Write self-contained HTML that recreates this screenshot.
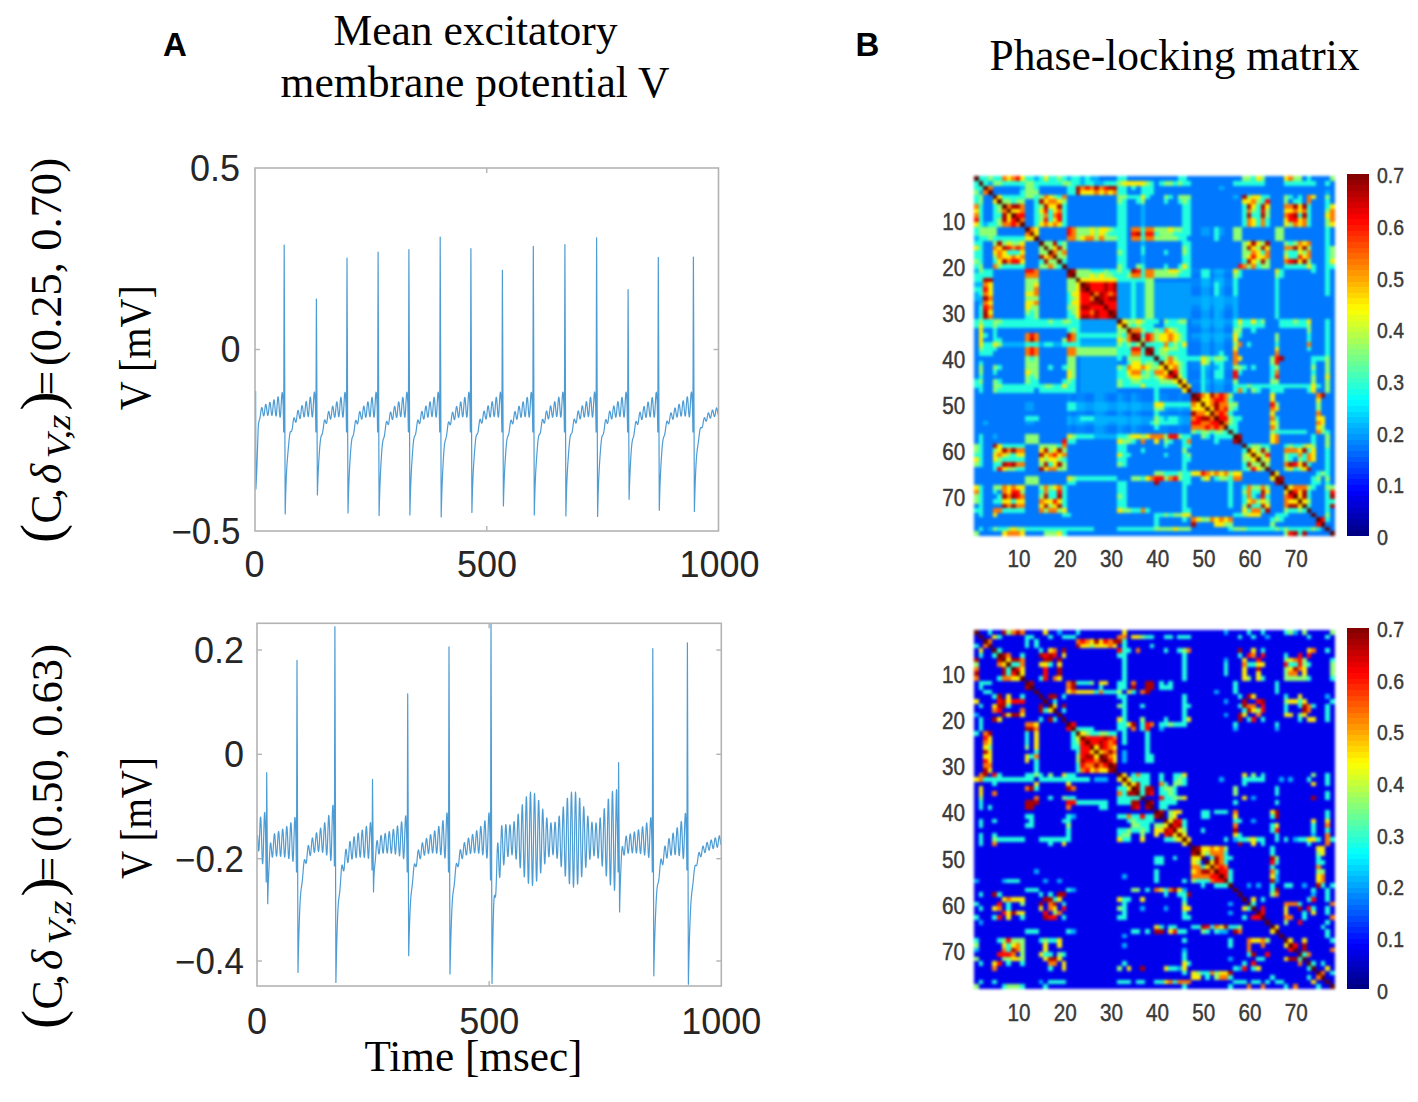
<!DOCTYPE html>
<html><head><meta charset="utf-8"><title>Figure</title>
<style>
html,body{margin:0;padding:0;background:#fff;}
body{width:1418px;height:1102px;overflow:hidden;}
svg{display:block;}
</style></head>
<body>
<svg width="1418" height="1102" viewBox="0 0 1418 1102">
<text x="163.0" y="55.9" font-family='"Liberation Sans", sans-serif' font-size="33" text-anchor="start" font-weight="bold" fill="#000">A</text><text x="855.6" y="56.2" font-family='"Liberation Sans", sans-serif' font-size="33" text-anchor="start" font-weight="bold" fill="#000">B</text><text x="475.5" y="44.7" font-family='"Liberation Serif", serif' font-size="43.5" text-anchor="middle" font-weight="normal" fill="#000" textLength="284" lengthAdjust="spacingAndGlyphs">Mean excitatory</text><text x="475.0" y="96.8" font-family='"Liberation Serif", serif' font-size="43.5" text-anchor="middle" font-weight="normal" fill="#000" textLength="389" lengthAdjust="spacingAndGlyphs">membrane potential V</text><text x="1174.5" y="70.3" font-family='"Liberation Serif", serif' font-size="43.5" text-anchor="middle" font-weight="normal" fill="#000" textLength="370" lengthAdjust="spacingAndGlyphs">Phase-locking matrix</text><g transform="translate(61.4,543.5) rotate(-90)" font-family='"Liberation Serif", serif' fill="#000"><text x="0.6" y="-1" font-size="57">(</text><text x="20" y="0" font-size="43.5">C</text><text x="44.5" y="0" font-size="43.5">,</text><text x="59.5" y="0" font-size="43.5" font-style="italic">&#948;</text><text x="85" y="8.5" font-size="34" font-style="italic" textLength="44" lengthAdjust="spacingAndGlyphs">V,z</text><text x="133" y="-1" font-size="57">)</text><text x="148" y="0" font-size="43.5">=</text><text x="177.5" y="0" font-size="43.5" textLength="208" lengthAdjust="spacingAndGlyphs">(0.25, 0.70)</text></g><g transform="translate(62.0,1029.5) rotate(-90)" font-family='"Liberation Serif", serif' fill="#000"><text x="0.6" y="-1" font-size="57">(</text><text x="20" y="0" font-size="43.5">C</text><text x="44.5" y="0" font-size="43.5">,</text><text x="59.5" y="0" font-size="43.5" font-style="italic">&#948;</text><text x="85" y="8.5" font-size="34" font-style="italic" textLength="44" lengthAdjust="spacingAndGlyphs">V,z</text><text x="133" y="-1" font-size="57">)</text><text x="148" y="0" font-size="43.5">=</text><text x="177.5" y="0" font-size="43.5" textLength="208" lengthAdjust="spacingAndGlyphs">(0.50, 0.63)</text></g><g transform="translate(150.0,347.7) rotate(-90)"><text x="0" y="0" font-family='"Liberation Serif", serif' font-size="43.5" text-anchor="middle" fill="#000" textLength="125" lengthAdjust="spacingAndGlyphs">V [mV]</text></g><g transform="translate(151.0,817.9) rotate(-90)"><text x="0" y="0" font-family='"Liberation Serif", serif' font-size="43.5" text-anchor="middle" fill="#000" textLength="122" lengthAdjust="spacingAndGlyphs">V [mV]</text></g><path d="M255.60 391.00L255.90 489.00L256.80 470.00L258.20 428.00L258.50 424.33L258.75 422.32L259.00 421.10L259.25 420.33L259.50 419.67L259.75 418.87L260.00 417.75L260.25 416.26L260.50 414.46L260.75 412.50L261.00 410.61L261.25 409.02L261.50 407.93L261.75 407.49L262.00 407.75L262.25 408.67L262.50 410.09L262.75 411.77L263.00 413.45L263.25 414.84L263.50 415.71L263.75 415.89L264.00 415.32L264.25 414.05L264.50 412.23L264.75 410.11L265.00 407.99L265.25 406.15L265.50 404.87L265.75 404.33L266.00 404.62L266.25 405.69L266.50 407.39L266.75 409.47L267.00 411.63L267.25 413.53L267.50 414.89L267.75 415.49L268.00 415.21L268.25 414.07L268.50 412.20L268.75 409.86L269.00 407.37L269.25 405.09L269.50 403.33L269.75 402.36L270.00 402.32L270.25 403.23L270.50 404.97L270.75 407.29L271.00 409.85L271.25 412.27L271.50 414.19L271.75 415.30L272.00 415.42L272.25 414.49L272.50 412.62L272.75 410.05L273.00 407.12L273.25 404.26L273.50 401.86L273.75 400.29L274.00 399.78L274.25 400.43L274.50 402.16L274.75 404.73L275.00 407.78L275.25 410.87L275.50 413.53L275.75 415.35L276.00 416.04L276.25 415.44L276.50 413.61L276.75 410.76L277.00 407.28L277.25 403.65L277.50 400.38L277.75 397.97L278.00 396.77L278.25 396.99L278.50 398.64L278.75 401.50L279.00 405.18L279.25 409.16L279.50 412.85L279.75 415.69L280.00 417.22L280.25 417.17L280.50 415.47L280.75 412.33L281.00 408.14L281.25 403.47L281.50 398.98L281.75 395.34L282.00 393.10L282.25 392.62L282.50 394.04L282.75 397.19L283.00 401.68L283.25 406.86L283.70 432.00L284.20 245.00L285.20 514.00L285.45 503.27L285.70 494.05L285.95 486.17L286.20 479.47L286.45 473.81L286.70 469.03L286.95 464.96L287.20 461.44L287.45 458.30L287.70 455.37L287.95 452.53L288.20 449.71L288.45 446.88L288.70 444.06L288.95 441.33L289.20 438.78L289.45 436.52L289.70 434.66L289.95 433.24L290.20 432.30L290.45 431.77L290.70 431.57L290.95 431.55L291.20 431.54L291.45 431.39L291.70 430.94L291.95 430.11L292.20 428.87L292.45 427.25L292.70 425.36L292.95 423.35L293.20 421.43L293.45 419.77L293.70 418.54L293.95 417.85L294.20 417.74L294.45 418.15L294.70 418.97L294.95 420.01L295.20 421.05L295.45 421.88L295.70 422.28L295.95 422.14L296.20 421.39L296.45 420.06L296.70 418.29L296.95 416.26L297.20 414.22L297.45 412.42L297.70 411.09L297.95 410.39L298.20 410.40L298.45 411.09L298.70 412.35L298.95 413.96L299.20 415.66L299.45 417.16L299.70 418.20L299.95 418.59L300.20 418.21L300.45 417.06L300.70 415.27L300.95 413.04L301.20 410.67L301.45 408.46L301.70 406.73L301.95 405.70L302.20 405.53L302.45 406.24L302.70 407.71L302.95 409.74L303.20 412.01L303.45 414.16L303.70 415.87L303.95 416.83L304.20 416.87L304.45 415.93L304.70 414.09L304.95 411.59L305.20 408.74L305.45 405.93L305.70 403.57L305.95 401.97L306.20 401.40L306.45 401.93L306.70 403.50L306.95 405.90L307.20 408.78L307.45 411.70L307.70 414.22L307.95 415.93L308.20 416.55L308.45 415.92L308.70 414.09L308.95 411.25L309.20 407.79L309.45 404.17L309.70 400.91L309.95 398.46L310.20 397.22L310.45 397.37L310.70 398.93L310.95 401.69L311.20 405.27L311.45 409.15L311.70 412.76L311.95 415.52L312.20 417.00L312.45 416.90L312.70 415.18L312.95 412.01L313.20 407.79L313.45 403.09L313.70 398.58L313.95 394.89L314.20 392.60L314.45 392.08L314.70 393.44L314.95 396.53L315.20 400.95L315.45 406.08L315.90 432.00L316.40 299.00L317.40 495.00L317.65 486.63L317.90 479.57L318.15 473.55L318.40 468.32L318.65 463.67L318.90 459.43L319.15 455.51L319.40 451.84L319.65 448.45L319.90 445.37L320.15 442.65L320.40 440.37L320.65 438.55L320.90 437.19L321.15 436.23L321.40 435.58L321.65 435.12L321.90 434.68L322.15 434.11L322.40 433.30L322.65 432.17L322.90 430.69L323.15 428.93L323.40 426.97L323.65 424.99L323.90 423.13L324.15 421.59L324.40 420.49L324.65 419.91L324.90 419.87L325.15 420.29L325.40 421.05L325.65 421.95L325.90 422.78L326.15 423.35L326.40 423.47L326.65 423.04L326.90 422.03L327.15 420.52L327.40 418.64L327.65 416.60L327.90 414.64L328.15 413.01L328.40 411.89L328.65 411.43L328.90 411.66L329.15 412.53L329.40 413.87L329.65 415.47L329.90 417.05L330.15 418.34L330.40 419.09L330.65 419.15L330.90 418.45L331.15 417.03L331.40 415.04L331.65 412.73L331.90 410.40L332.15 408.36L332.40 406.88L332.65 406.17L332.90 406.33L333.15 407.33L333.40 409.01L333.65 411.13L333.90 413.36L334.15 415.34L334.40 416.75L334.65 417.34L334.90 416.98L335.15 415.66L335.40 413.53L335.65 410.85L335.90 407.97L336.15 405.30L336.40 403.21L336.65 402.00L336.90 401.85L337.15 402.79L337.40 404.71L337.65 407.32L337.90 410.24L338.15 413.03L338.40 415.26L338.65 416.55L338.90 416.67L339.15 415.54L339.40 413.27L339.65 410.13L339.90 406.55L340.15 403.01L340.40 400.02L340.65 398.02L340.90 397.31L341.15 398.03L341.40 400.09L341.65 403.22L341.90 406.97L342.15 410.79L342.40 414.11L342.65 416.40L342.90 417.26L343.15 416.50L343.40 414.16L343.65 410.51L343.90 406.02L344.15 401.32L344.40 397.06L344.65 393.87L344.90 392.25L345.15 392.47L345.40 394.55L345.65 398.22L345.90 403.00L346.15 408.19L346.50 432.00L347.00 258.00L348.00 513.00L348.25 502.51L348.50 493.67L348.75 486.21L349.00 479.84L349.25 474.32L349.50 469.43L349.75 464.99L350.00 460.85L350.25 456.95L350.50 453.26L350.75 449.83L351.00 446.69L351.25 443.94L351.50 441.63L351.75 439.80L352.00 438.44L352.25 437.50L352.50 436.87L352.75 436.40L353.00 435.95L353.25 435.35L353.50 434.49L353.75 433.28L354.00 431.71L354.25 429.84L354.50 427.79L354.75 425.70L355.00 423.76L355.25 422.15L355.50 420.99L355.75 420.38L356.00 420.32L356.25 420.73L356.50 421.49L356.75 422.39L357.00 423.22L357.25 423.77L357.50 423.87L357.75 423.41L358.00 422.36L358.25 420.81L358.50 418.88L358.75 416.80L359.00 414.80L359.25 413.13L359.50 411.99L359.75 411.52L360.00 411.74L360.25 412.61L360.50 413.95L360.75 415.56L361.00 417.14L361.25 418.43L361.50 419.18L361.75 419.23L362.00 418.52L362.25 417.08L362.50 415.07L362.75 412.75L363.00 410.40L363.25 408.34L363.50 406.85L363.75 406.14L364.00 406.29L364.25 407.29L364.50 408.99L364.75 411.11L365.00 413.34L365.25 415.33L365.50 416.74L365.75 417.33L366.00 416.96L366.25 415.64L366.50 413.50L366.75 410.81L367.00 407.93L367.25 405.25L367.50 403.15L367.75 401.94L368.00 401.79L368.25 402.74L368.50 404.66L368.75 407.28L369.00 410.20L369.25 413.00L369.50 415.22L369.75 416.52L370.00 416.64L370.25 415.51L370.50 413.23L370.75 410.10L371.00 406.51L371.25 402.97L371.50 399.98L371.75 397.98L372.00 397.27L372.25 397.99L372.50 400.05L372.75 403.18L373.00 406.94L373.25 410.77L373.50 414.09L373.75 416.38L374.00 417.24L374.25 416.48L374.50 414.14L374.75 410.49L375.00 406.01L375.25 401.30L375.50 397.04L375.75 393.85L376.00 392.23L376.25 392.45L376.50 394.53L376.75 398.22L377.00 402.99L377.25 408.18L377.60 432.00L378.10 252.00L379.10 515.60L379.35 504.91L379.60 495.90L379.85 488.24L380.10 481.64L380.35 475.85L380.60 470.65L380.85 465.89L381.10 461.48L381.35 457.37L381.60 453.57L381.85 450.15L382.10 447.15L382.35 444.64L382.60 442.62L382.85 441.08L383.10 439.97L383.35 439.15L383.60 438.50L383.85 437.85L384.10 437.06L384.35 436.01L384.60 434.62L384.85 432.91L385.10 430.92L385.35 428.78L385.60 426.66L385.85 424.71L386.10 423.12L386.35 422.01L386.60 421.44L386.85 421.41L387.10 421.83L387.35 422.56L387.60 423.40L387.85 424.13L388.10 424.55L388.35 424.50L388.60 423.89L388.85 422.71L389.10 421.04L389.35 419.05L389.60 416.95L389.85 414.98L390.10 413.39L390.35 412.35L390.60 411.99L390.85 412.32L391.10 413.27L391.35 414.66L391.60 416.25L391.85 417.77L392.10 418.95L392.35 419.55L392.60 419.44L392.85 418.56L393.10 416.98L393.35 414.88L393.60 412.52L393.85 410.20L394.10 408.23L394.35 406.88L394.60 406.33L394.85 406.65L395.10 407.79L395.35 409.57L395.60 411.73L395.85 413.93L396.10 415.82L396.35 417.07L396.60 417.47L396.85 416.90L397.10 415.39L397.35 413.12L397.60 410.36L397.85 407.49L398.10 404.90L398.35 402.95L398.60 401.93L398.85 402.00L399.10 403.16L399.35 405.23L399.60 407.94L399.85 410.87L400.10 413.58L400.35 415.64L400.60 416.71L400.85 416.57L401.10 415.20L401.35 412.73L401.60 409.46L401.85 405.85L402.10 402.37L402.35 399.55L402.60 397.78L402.85 397.35L403.10 398.35L403.35 400.65L403.60 403.94L403.85 407.76L404.10 411.53L404.35 414.68L404.60 416.70L404.85 417.25L405.10 416.16L405.35 413.53L405.60 409.67L405.85 405.09L406.10 400.41L406.35 396.32L406.60 393.41L406.85 392.15L407.10 392.75L407.35 395.17L407.60 399.12L407.85 404.03L408.40 432.00L408.90 249.50L409.90 515.00L410.15 504.24L410.40 495.16L410.65 487.49L410.90 480.99L411.15 475.40L411.40 470.50L411.65 466.09L411.90 462.02L412.15 458.17L412.40 454.50L412.65 451.02L412.90 447.77L413.15 444.82L413.40 442.26L413.65 440.15L413.90 438.52L414.15 437.34L414.40 436.57L414.65 436.06L414.90 435.69L415.15 435.28L415.40 434.69L415.65 433.79L415.90 432.54L416.15 430.92L416.40 429.01L416.65 426.94L416.90 424.88L417.15 423.00L417.40 421.48L417.65 420.45L417.90 419.97L418.15 420.03L418.40 420.56L418.65 421.39L418.90 422.32L419.15 423.13L419.40 423.62L419.65 423.62L419.90 423.05L420.15 421.90L420.40 420.26L420.65 418.28L420.90 416.19L421.15 414.24L421.40 412.67L421.65 411.66L421.90 411.33L422.15 411.70L422.40 412.69L422.65 414.12L422.90 415.76L423.15 417.31L423.40 418.52L423.65 419.15L423.90 419.05L424.15 418.19L424.40 416.62L424.65 414.53L424.90 412.17L425.15 409.86L425.40 407.89L425.65 406.55L425.90 406.00L426.15 406.34L426.40 407.50L426.65 409.31L426.90 411.49L427.15 413.70L427.40 415.60L427.65 416.87L427.90 417.28L428.15 416.72L428.40 415.21L428.65 412.94L428.90 410.18L429.15 407.31L429.40 404.72L429.65 402.78L429.90 401.77L430.15 401.84L430.40 403.00L430.65 405.09L430.90 407.81L431.15 410.75L431.40 413.47L431.65 415.53L431.90 416.61L432.15 416.48L432.40 415.11L432.65 412.64L432.90 409.37L433.15 405.76L433.40 402.28L433.65 399.46L433.90 397.70L434.15 397.27L434.40 398.27L434.65 400.58L434.90 403.88L435.15 407.70L435.40 411.47L435.65 414.63L435.90 416.66L436.15 417.21L436.40 416.12L436.65 413.49L436.90 409.63L437.15 405.05L437.40 400.38L437.65 396.29L437.90 393.38L438.15 392.11L438.40 392.72L438.65 395.15L438.90 399.10L439.15 404.02L439.70 432.00L440.20 237.00L441.20 517.00L441.45 506.18L441.70 497.05L441.95 489.28L442.20 482.56L442.45 476.63L442.70 471.30L442.95 466.42L443.20 461.91L443.45 457.73L443.70 453.91L443.95 450.51L444.20 447.56L444.45 445.12L444.70 443.19L444.95 441.72L445.20 440.65L445.45 439.83L445.70 439.12L445.95 438.36L446.20 437.42L446.45 436.19L446.70 434.63L446.95 432.76L447.20 430.67L447.45 428.49L447.70 426.39L447.95 424.55L448.20 423.11L448.45 422.18L448.70 421.80L448.95 421.94L449.20 422.48L449.45 423.25L449.70 424.04L449.95 424.65L450.20 424.88L450.45 424.59L450.70 423.74L450.95 422.34L451.20 420.51L451.45 418.44L451.70 416.35L451.95 414.50L452.20 413.10L452.45 412.32L452.70 412.23L452.95 412.81L453.20 413.95L453.45 415.44L453.70 417.03L453.95 418.43L454.20 419.39L454.45 419.71L454.70 419.28L454.95 418.11L455.20 416.30L455.45 414.06L455.70 411.67L455.95 409.45L456.20 407.70L456.45 406.64L456.70 406.43L456.95 407.09L457.20 408.51L457.45 410.48L457.70 412.69L457.95 414.80L458.20 416.47L458.45 417.40L458.70 417.41L458.95 416.45L459.20 414.61L459.45 412.10L459.70 409.25L459.95 406.44L460.20 404.07L460.45 402.46L460.70 401.87L460.95 402.38L461.20 403.93L461.45 406.30L461.70 409.14L461.95 412.03L462.20 414.53L462.45 416.23L462.70 416.83L462.95 416.19L463.20 414.35L463.45 411.52L463.70 408.05L463.95 404.43L464.20 401.16L464.45 398.72L464.70 397.46L464.95 397.60L465.20 399.14L465.45 401.89L465.70 405.45L465.95 409.32L466.20 412.91L466.45 415.66L466.70 417.12L466.95 417.02L467.20 415.29L467.45 412.12L467.70 407.90L467.95 403.20L468.20 398.68L468.45 394.99L468.70 392.70L468.95 392.16L469.20 393.51L469.45 396.60L469.70 401.01L469.95 406.12L470.40 432.00L470.90 248.50L471.90 512.50L472.15 501.97L472.40 493.06L472.65 485.54L472.90 479.18L473.15 473.77L473.40 469.07L473.65 464.90L473.90 461.07L474.15 457.46L474.40 454.00L474.65 450.65L474.90 447.46L475.15 444.48L475.40 441.80L475.65 439.51L475.90 437.66L476.15 436.29L476.40 435.36L476.65 434.80L476.90 434.47L477.15 434.22L477.40 433.89L477.65 433.33L477.90 432.45L478.15 431.18L478.40 429.55L478.65 427.64L478.90 425.59L479.15 423.59L479.40 421.81L479.65 420.42L479.90 419.54L480.15 419.21L480.40 419.43L480.65 420.07L480.90 420.98L481.15 421.95L481.40 422.75L481.65 423.19L481.90 423.11L482.15 422.44L482.40 421.20L482.65 419.49L482.90 417.48L483.15 415.41L483.40 413.53L483.65 412.07L483.90 411.21L484.15 411.04L484.40 411.56L484.65 412.67L484.90 414.19L485.15 415.84L485.40 417.37L485.65 418.49L485.90 419.00L486.15 418.75L486.40 417.75L486.65 416.06L486.90 413.90L487.15 411.53L487.40 409.26L487.65 407.41L487.90 406.21L488.15 405.85L488.40 406.37L488.65 407.69L488.90 409.60L489.15 411.83L489.40 414.01L489.65 415.82L489.90 416.94L490.15 417.16L490.40 416.40L490.65 414.73L490.90 412.33L491.15 409.52L491.40 406.68L491.65 404.19L491.90 402.42L492.15 401.62L492.40 401.92L492.65 403.29L492.90 405.54L493.15 408.33L493.40 411.27L493.65 413.89L493.90 415.79L494.15 416.64L494.40 416.26L494.65 414.65L494.90 411.99L495.15 408.62L495.40 404.99L495.65 401.61L495.90 398.97L496.15 397.46L496.40 397.32L496.65 398.60L496.90 401.14L497.15 404.59L497.40 408.45L497.65 412.15L497.90 415.12L498.15 416.88L498.40 417.10L498.65 415.70L498.90 412.79L499.15 408.74L499.40 404.08L499.65 399.48L499.90 395.58L500.15 392.97L500.40 392.07L500.65 393.05L500.90 395.82L501.15 400.01L501.40 405.05L501.90 432.00L502.40 270.30L503.40 506.00L503.65 496.34L503.90 488.20L504.15 481.32L504.40 475.41L504.65 470.24L504.90 465.60L505.15 461.34L505.40 457.37L505.65 453.63L505.90 450.13L506.15 446.94L506.40 444.11L506.65 441.71L506.90 439.78L507.15 438.32L507.40 437.29L507.65 436.59L507.90 436.10L508.15 435.65L508.40 435.10L508.65 434.31L508.90 433.19L509.15 431.73L509.40 429.94L509.65 427.95L509.90 425.89L510.15 423.94L510.40 422.27L510.65 421.04L510.90 420.32L511.15 420.16L511.40 420.49L511.65 421.19L511.90 422.08L512.15 422.94L512.40 423.56L512.65 423.77L512.90 423.43L513.15 422.52L513.40 421.06L513.65 419.21L513.90 417.16L514.15 415.14L514.40 413.40L514.65 412.15L514.90 411.54L515.15 411.63L515.40 412.37L515.65 413.64L515.90 415.21L516.15 416.82L516.40 418.19L516.65 419.06L516.90 419.26L517.15 418.70L517.40 417.41L517.65 415.51L517.90 413.23L518.15 410.86L518.40 408.73L518.65 407.11L518.90 406.23L519.15 406.21L519.40 407.05L519.65 408.62L519.90 410.68L520.15 412.92L520.40 414.98L520.65 416.53L520.90 417.30L521.15 417.13L521.40 415.99L521.65 413.99L521.90 411.39L522.15 408.52L522.40 405.78L522.65 403.54L522.90 402.13L523.15 401.76L523.40 402.49L523.65 404.23L523.90 406.73L524.15 409.63L524.40 412.49L524.65 414.86L524.90 416.36L525.15 416.73L525.40 415.84L525.65 413.78L525.90 410.79L526.15 407.26L526.40 403.67L526.65 400.53L526.90 398.30L527.15 397.32L527.40 397.75L527.65 399.56L527.90 402.50L528.15 406.18L528.40 410.04L528.65 413.50L528.90 416.03L529.15 417.20L529.40 416.77L529.65 414.73L529.90 411.31L530.15 406.95L530.40 402.23L530.65 397.83L530.90 394.39L531.15 392.42L531.40 392.26L531.65 393.98L531.90 397.38L532.15 401.98L532.40 407.15L532.80 432.00L533.30 246.30L534.30 515.00L534.55 504.18L534.80 495.01L535.05 487.25L535.30 480.70L535.55 475.13L535.80 470.33L536.05 466.09L536.30 462.23L536.55 458.62L536.80 455.15L537.05 451.79L537.30 448.55L537.55 445.49L537.80 442.69L538.05 440.25L538.30 438.24L538.55 436.69L538.80 435.61L539.05 434.93L539.30 434.54L539.55 434.30L539.80 434.03L540.05 433.59L540.30 432.85L540.55 431.73L540.80 430.23L541.05 428.41L541.30 426.40L541.55 424.35L541.80 422.45L542.05 420.88L542.30 419.78L542.55 419.24L542.80 419.25L543.05 419.74L543.30 420.58L543.55 421.55L543.80 422.45L544.05 423.06L544.30 423.20L544.55 422.77L544.80 421.75L545.05 420.20L545.30 418.28L545.55 416.20L545.80 414.21L546.05 412.56L546.30 411.44L546.55 410.98L546.80 411.24L547.05 412.14L547.30 413.52L547.55 415.16L547.80 416.77L548.05 418.09L548.30 418.86L548.55 418.93L548.80 418.22L549.05 416.79L549.30 414.78L549.55 412.46L549.80 410.11L550.05 408.06L550.30 406.57L550.55 405.87L550.80 406.04L551.05 407.05L551.30 408.76L551.55 410.90L551.80 413.15L552.05 415.15L552.30 416.57L552.55 417.17L552.80 416.81L553.05 415.49L553.30 413.35L553.55 410.66L553.80 407.78L554.05 405.10L554.30 403.00L554.55 401.79L554.80 401.65L555.05 402.61L555.30 404.53L555.55 407.16L555.80 410.09L556.05 412.90L556.30 415.13L556.55 416.43L556.80 416.55L557.05 415.43L557.30 413.15L557.55 410.02L557.80 406.43L558.05 402.89L558.30 399.90L558.55 397.90L558.80 397.19L559.05 397.92L559.30 399.98L559.55 403.12L559.80 406.89L560.05 410.72L560.30 414.05L560.55 416.34L560.80 417.20L561.05 416.45L561.30 414.11L561.55 410.46L561.80 405.97L562.05 401.27L562.30 397.01L562.55 393.82L562.80 392.20L563.05 392.43L563.30 394.51L563.55 398.20L563.80 402.98L564.05 408.17L564.40 432.00L564.90 244.50L565.90 516.00L566.15 505.05L566.40 495.76L566.65 487.89L566.90 481.24L567.15 475.60L567.40 470.77L567.65 466.53L567.90 462.70L568.15 459.13L568.40 455.70L568.65 452.38L568.90 449.15L569.15 446.06L569.40 443.19L569.65 440.64L569.90 438.49L570.15 436.80L570.40 435.58L570.65 434.79L570.90 434.34L571.15 434.09L571.40 433.88L571.65 433.55L571.90 432.96L572.15 432.01L572.40 430.67L572.65 428.97L572.90 427.02L573.15 424.96L573.40 422.99L573.65 421.27L573.90 419.98L574.15 419.21L574.40 419.02L574.65 419.34L574.90 420.08L575.15 421.03L575.40 422.00L575.65 422.76L575.90 423.11L576.15 422.92L576.40 422.14L576.65 420.79L576.90 418.99L577.15 416.95L577.40 414.89L577.65 413.08L577.90 411.72L578.15 411.00L578.40 410.97L578.65 411.63L578.90 412.85L579.15 414.43L579.40 416.09L579.65 417.56L579.90 418.58L580.15 418.95L580.40 418.55L580.65 417.39L580.90 415.59L581.15 413.36L581.40 410.99L581.65 408.78L581.90 407.04L582.15 406.00L582.40 405.82L582.65 406.51L582.90 407.97L583.15 409.98L583.40 412.23L583.65 414.37L583.90 416.06L584.15 417.01L584.40 417.05L584.65 416.10L584.90 414.26L585.15 411.75L585.40 408.90L585.65 406.09L585.90 403.72L586.15 402.13L586.40 401.55L586.65 402.07L586.90 403.64L587.15 406.03L587.40 408.89L587.65 411.80L587.90 414.32L588.15 416.03L588.40 416.64L588.65 416.01L588.90 414.17L589.15 411.34L589.40 407.88L589.65 404.26L589.90 400.99L590.15 398.54L590.40 397.29L590.65 397.44L590.90 399.00L591.15 401.75L591.40 405.33L591.65 409.21L591.90 412.80L592.15 415.57L592.40 417.04L592.65 416.94L592.90 415.21L593.15 412.04L593.40 407.82L593.65 403.13L593.90 398.61L594.15 394.93L594.40 392.63L594.65 392.11L594.90 393.46L595.15 396.55L595.40 400.97L595.65 406.09L596.10 432.00L596.60 237.80L597.60 516.40L597.85 505.44L598.10 496.17L598.35 488.33L598.60 481.71L598.85 476.06L599.10 471.16L599.35 466.80L599.60 462.82L599.85 459.07L600.10 455.48L600.35 452.03L600.60 448.73L600.85 445.66L601.10 442.90L601.35 440.53L601.60 438.62L601.85 437.19L602.10 436.20L602.35 435.58L602.60 435.20L602.85 434.91L603.10 434.54L603.35 433.94L603.60 433.02L603.85 431.71L604.10 430.05L604.35 428.11L604.60 426.04L604.85 424.01L605.10 422.20L605.35 420.79L605.60 419.89L605.85 419.54L606.10 419.74L606.35 420.36L606.60 421.26L606.85 422.21L607.10 423.00L607.35 423.42L607.60 423.33L607.85 422.65L608.10 421.39L608.35 419.67L608.60 417.65L608.85 415.57L609.10 413.68L609.35 412.21L609.60 411.34L609.85 411.16L610.10 411.68L610.35 412.78L610.60 414.29L610.85 415.94L611.10 417.46L611.35 418.58L611.60 419.08L611.85 418.83L612.10 417.82L612.35 416.13L612.60 413.96L612.85 411.59L613.10 409.32L613.35 407.46L613.60 406.27L613.85 405.90L614.10 406.42L614.35 407.73L614.60 409.64L614.85 411.86L615.10 414.05L615.35 415.85L615.60 416.97L615.85 417.19L616.10 416.43L616.35 414.76L616.60 412.36L616.85 409.55L617.10 406.70L617.35 404.21L617.60 402.44L617.85 401.64L618.10 401.94L618.35 403.31L618.60 405.55L618.85 408.35L619.10 411.28L619.35 413.91L619.60 415.80L619.85 416.65L620.10 416.27L620.35 414.66L620.60 412.00L620.85 408.63L621.10 405.00L621.35 401.62L621.60 398.98L621.85 397.47L622.10 397.33L622.35 398.61L622.60 401.15L622.85 404.60L623.10 408.46L623.35 412.15L623.60 415.12L623.85 416.88L624.10 417.11L624.35 415.70L624.60 412.79L624.85 408.74L625.10 404.09L625.35 399.48L625.60 395.58L625.85 392.97L626.10 392.07L626.35 393.05L626.60 395.82L626.85 400.02L627.10 405.05L627.60 432.00L628.10 289.70L629.10 499.30L629.35 490.53L629.60 483.06L629.85 476.61L630.10 470.92L630.35 465.81L630.60 461.15L630.85 456.90L631.10 453.04L631.35 449.60L631.60 446.62L631.85 444.14L632.10 442.16L632.35 440.64L632.60 439.52L632.85 438.66L633.10 437.93L633.35 437.18L633.60 436.27L633.85 435.10L634.10 433.62L634.35 431.85L634.60 429.86L634.85 427.78L635.10 425.77L635.35 424.00L635.60 422.62L635.85 421.73L636.10 421.37L636.35 421.52L636.60 422.05L636.85 422.82L637.10 423.62L637.35 424.23L637.60 424.47L637.85 424.22L638.10 423.39L638.35 422.04L638.60 420.26L638.85 418.23L639.10 416.19L639.35 414.38L639.60 413.01L639.85 412.24L640.10 412.16L640.35 412.74L640.60 413.87L640.85 415.36L641.10 416.94L641.35 418.34L641.60 419.30L641.85 419.63L642.10 419.21L642.35 418.05L642.60 416.26L642.85 414.04L643.10 411.68L643.35 409.48L643.60 407.73L643.85 406.69L644.10 406.48L644.35 407.13L644.60 408.55L644.85 410.51L645.10 412.72L645.35 414.82L645.60 416.48L645.85 417.41L646.10 417.43L646.35 416.48L646.60 414.64L646.85 412.14L647.10 409.29L647.35 406.49L647.60 404.12L647.85 402.53L648.10 401.93L648.35 402.44L648.60 403.98L648.85 406.35L649.10 409.19L649.35 412.07L649.60 414.56L649.85 416.26L650.10 416.86L650.35 416.22L650.60 414.39L650.85 411.55L651.10 408.09L651.35 404.48L651.60 401.21L651.85 398.76L652.10 397.51L652.35 397.64L652.60 399.18L652.85 401.93L653.10 405.49L653.35 409.35L653.60 412.93L653.85 415.68L654.10 417.14L654.35 417.04L654.60 415.31L654.85 412.14L655.10 407.92L655.35 403.22L655.60 398.70L655.85 395.01L656.10 392.72L656.35 392.18L656.60 393.53L656.85 396.61L657.10 401.02L657.35 406.12L657.80 432.00L658.30 257.40L659.30 510.30L659.55 500.14L659.80 491.58L660.05 484.33L660.30 478.13L660.55 472.73L660.80 467.93L661.05 463.55L661.30 459.49L661.55 455.68L661.80 452.12L662.05 448.83L662.30 445.88L662.55 443.33L662.80 441.21L663.05 439.55L663.30 438.32L663.55 437.45L663.80 436.82L664.05 436.29L664.30 435.73L664.55 435.00L664.80 434.00L665.05 432.69L665.30 431.08L665.55 429.24L665.80 427.29L666.05 425.39L666.30 423.69L666.55 422.35L666.80 421.45L667.05 421.05L667.30 421.12L667.55 421.58L667.80 422.27L668.05 423.01L668.30 423.62L668.55 423.91L668.80 423.76L669.05 423.10L669.30 421.95L669.55 420.40L669.80 418.60L670.05 416.76L670.30 415.08L670.55 413.77L670.80 412.98L671.05 412.79L671.30 413.20L671.55 414.11L671.80 415.36L672.05 416.73L672.30 417.98L672.55 418.89L672.80 419.28L673.05 419.03L673.30 418.13L673.55 416.67L673.80 414.82L674.05 412.79L674.30 410.86L674.55 409.29L674.80 408.27L675.05 407.95L675.30 408.37L675.55 409.44L675.80 411.01L676.05 412.83L676.30 414.61L676.55 416.07L676.80 416.96L677.05 417.11L677.30 416.46L677.55 415.07L677.80 413.08L678.05 410.77L678.30 408.44L678.55 406.40L678.80 404.96L679.05 404.31L679.30 404.54L679.55 405.64L679.80 407.43L680.05 409.67L680.30 412.00L680.55 414.07L680.80 415.56L681.05 416.21L681.30 415.87L681.55 414.57L681.80 412.44L682.05 409.76L682.30 406.88L682.55 404.21L682.80 402.13L683.05 400.94L683.30 400.83L683.55 401.82L683.80 403.80L684.05 406.47L684.30 409.46L684.55 412.30L684.80 414.57L685.05 415.90L685.30 416.05L685.55 414.93L685.80 412.67L686.05 409.54L686.30 405.95L686.55 402.42L686.80 399.44L687.05 397.45L687.30 396.76L687.55 397.50L687.80 399.60L688.05 402.77L688.30 406.56L688.55 410.42L688.80 413.77L689.05 416.09L689.30 416.97L689.55 416.23L689.80 413.90L690.05 410.25L690.30 405.77L690.55 401.07L690.80 396.82L691.05 393.64L691.30 392.04L691.55 392.28L691.80 394.38L692.05 398.09L692.30 402.89L692.55 408.11L692.90 432.00L693.40 257.00L694.40 511.50L694.65 501.30L694.90 492.49L695.15 484.80L695.40 478.06L695.65 472.14L695.90 466.97L696.15 462.51L696.40 458.70L696.65 455.50L696.90 452.82L697.15 450.57L697.40 448.64L697.65 446.89L697.90 445.21L698.15 443.50L698.40 441.69L698.65 439.75L698.90 437.72L699.15 435.66L699.40 433.64L699.65 431.80L699.90 430.22L700.15 428.98L700.40 428.13L700.65 427.66L700.90 427.51L701.15 427.59L701.40 427.76L701.65 427.88L701.90 427.82L702.15 427.48L702.40 426.81L702.65 425.79L702.90 424.49L703.15 423.00L703.40 421.47L703.65 420.04L703.90 418.87L704.15 418.06L704.40 417.67L704.65 417.72L704.90 418.14L705.15 418.84L705.40 419.65L705.65 420.41L705.90 420.96L706.15 421.17L706.40 420.97L706.65 420.33L706.90 419.30L707.15 417.99L707.40 416.54L707.65 415.15L707.90 413.97L708.15 413.15L708.40 412.79L708.65 412.91L708.90 413.48L709.15 414.38L709.40 415.48L709.65 416.57L709.90 417.48L710.15 418.05L710.40 418.17L710.65 417.79L710.90 416.95L711.15 415.73L711.40 414.29L711.65 412.82L711.90 411.51L712.15 410.54L712.40 410.04L712.65 410.06L712.90 410.59L713.15 411.54L713.40 412.77L713.65 414.07L713.90 415.26L714.15 416.12L714.40 416.53L714.65 416.40L714.90 415.72L715.15 414.58L715.40 413.12L715.65 411.54L715.90 410.04L716.15 408.85L716.40 408.11L716.65 407.94L716.90 408.35L717.15 409.27L717.40 410.56L717.65 412.04L717.90 413.47L718.15 414.63" fill="none" stroke="rgb(78,156,212)" stroke-width="1.2" stroke-linejoin="round"/><path d="M257.50 835.00L257.75 837.56L258.00 841.89L258.25 846.47L258.50 849.87L258.75 851.00L259.00 849.37L259.25 845.10L259.50 838.84L259.75 831.67L260.00 824.87L260.25 819.65L260.50 817.00L260.75 817.51L261.00 821.24L261.25 827.75L261.50 836.14L261.75 845.20L262.00 853.60L262.25 860.07L262.50 863.59L262.75 863.58L263.00 859.97L263.25 853.21L263.50 844.25L263.75 834.35L264.00 824.97L264.25 817.49L264.50 813.08L264.75 812.44L265.00 815.77L265.25 822.67L265.50 832.22L265.75 843.08L266.20 882.00L266.70 772.70L267.70 903.70L267.95 893.39L268.20 885.74L268.45 879.59L268.70 874.08L268.95 868.70L269.20 863.24L269.45 857.79L269.70 852.66L269.95 848.26L270.20 845.00L270.45 843.17L270.70 842.89L270.95 844.08L271.20 846.43L271.45 849.46L271.70 852.58L271.95 855.21L272.20 856.84L272.45 857.10L272.70 855.87L272.95 853.23L273.20 849.50L273.45 845.18L273.70 840.87L273.95 837.18L274.20 834.64L274.45 833.61L274.70 834.26L274.95 836.48L275.20 839.95L275.45 844.17L275.70 848.51L275.95 852.33L276.20 855.04L276.45 856.23L276.70 855.71L276.95 853.50L277.20 849.92L277.45 845.46L277.70 840.75L277.95 836.46L278.20 833.22L278.45 831.50L278.70 831.56L278.95 833.40L279.20 836.77L279.45 841.18L279.70 846.00L279.95 850.51L280.20 854.06L280.45 856.10L280.70 856.32L280.95 854.64L281.20 851.30L281.45 846.73L281.70 841.59L281.95 836.61L282.20 832.51L282.45 829.89L282.70 829.14L282.95 830.40L283.20 833.50L283.45 838.00L283.70 843.27L283.95 848.54L284.20 853.03L284.45 856.07L284.70 857.19L284.95 856.19L285.20 853.16L285.45 848.52L285.70 842.90L285.95 837.09L286.20 831.94L286.45 828.21L286.70 826.44L286.95 826.94L287.20 829.66L287.45 834.24L287.70 840.03L287.95 846.22L288.20 851.89L288.45 856.20L288.70 858.48L288.95 858.35L289.20 855.78L289.45 851.07L289.70 844.87L289.95 838.03L290.20 831.55L290.45 826.36L290.70 823.26L290.95 822.72L291.20 824.89L291.45 829.51L291.70 835.94L291.95 843.29L292.20 850.49L292.45 856.48L292.70 860.34L292.95 861.44L293.20 859.55L293.45 854.84L293.70 847.94L293.95 839.79L294.20 831.54L294.45 824.38L294.70 819.41L294.95 817.39L295.20 818.70L295.45 823.24L295.70 830.43L295.95 839.28L296.50 872.00L297.00 660.30L298.00 972.50L298.25 960.01L298.50 949.12L298.75 939.47L299.00 930.81L299.25 922.98L299.50 915.92L299.75 909.63L300.00 904.14L300.25 899.49L300.50 895.67L300.75 892.62L301.00 890.24L301.25 888.34L301.50 886.71L301.75 885.13L302.00 883.39L302.25 881.34L302.50 878.89L302.75 876.05L303.00 872.94L303.25 869.72L303.50 866.62L303.75 863.89L304.00 861.72L304.25 860.28L304.50 859.62L304.75 859.68L305.00 860.32L305.25 861.29L305.50 862.31L305.75 863.07L306.00 863.32L306.25 862.86L306.50 861.61L306.75 859.62L307.00 857.04L307.25 854.13L307.50 851.22L307.75 848.64L308.00 846.70L308.25 845.61L308.50 845.47L308.75 846.26L309.00 847.80L309.25 849.82L309.50 851.97L309.75 853.85L310.00 855.13L310.25 855.55L310.50 854.95L310.75 853.35L311.00 850.92L311.25 847.92L311.50 844.75L311.75 841.82L312.00 839.51L312.25 838.15L312.50 837.91L312.75 838.80L313.00 840.70L313.25 843.29L313.50 846.19L313.75 848.94L314.00 851.10L314.25 852.31L314.50 852.32L314.75 851.09L315.00 848.74L315.25 845.54L315.50 841.93L315.75 838.39L316.00 835.42L316.25 833.44L316.50 832.74L316.75 833.43L317.00 835.43L317.25 838.44L317.50 842.03L317.75 845.66L318.00 848.78L318.25 850.90L318.50 851.66L318.75 850.89L319.00 848.63L319.25 845.17L319.50 840.94L319.75 836.54L320.00 832.58L320.25 829.64L320.50 828.17L320.75 828.39L321.00 830.32L321.25 833.70L321.50 838.07L321.75 842.79L322.00 847.16L322.25 850.52L322.50 852.31L322.75 852.22L323.00 850.16L323.25 846.37L323.50 841.33L323.75 835.72L324.00 830.33L324.25 825.95L324.50 823.24L324.75 822.64L325.00 824.31L325.25 828.05L325.50 833.39L325.75 839.56L326.00 845.69L326.25 850.84L326.50 854.21L326.75 855.22L327.00 853.60L327.25 849.49L327.50 843.38L327.75 836.08L328.00 828.60L328.25 822.03L328.50 817.36L328.75 815.34L329.00 816.38L329.25 820.41L329.50 826.96L329.75 835.15L330.00 843.82L330.25 851.69L330.50 857.54L330.75 860.42L331.00 859.74L331.25 855.45L331.50 848.00L331.75 838.35L332.00 827.81L332.25 817.89L332.50 810.08L332.75 805.62L333.00 805.31L333.25 809.36L333.50 817.37L333.75 828.30L334.00 840.67L334.40 866.00L334.90 626.70L335.90 982.50L336.15 969.40L336.40 957.83L336.65 947.49L336.90 938.16L337.15 929.77L337.40 922.33L337.65 915.89L337.90 910.48L338.15 906.10L338.40 902.69L338.65 900.09L338.90 898.06L339.15 896.33L339.40 894.61L339.65 892.63L339.90 890.21L340.15 887.25L340.40 883.80L340.65 880.00L340.90 876.11L341.15 872.42L341.40 869.24L341.65 866.85L341.90 865.40L342.15 864.96L342.40 865.42L342.65 866.57L342.90 868.07L343.15 869.55L343.40 870.61L343.65 870.93L343.90 870.29L344.15 868.62L344.40 866.01L344.65 862.69L344.90 859.04L345.15 855.47L345.40 852.41L345.65 850.24L345.90 849.21L346.15 849.41L346.40 850.75L346.65 852.98L346.90 855.72L347.15 858.50L347.40 860.84L347.65 862.33L347.90 862.65L348.15 861.70L348.40 859.51L348.65 856.35L348.90 852.60L349.15 848.74L349.40 845.31L349.65 842.76L349.90 841.44L350.15 841.51L350.40 842.95L350.65 845.53L350.90 848.84L351.15 852.39L351.40 855.61L351.65 858.00L351.90 859.16L352.15 858.88L352.40 857.14L352.65 854.14L352.90 850.29L353.15 846.10L353.40 842.16L353.65 839.01L353.90 837.10L354.15 836.71L354.40 837.89L354.65 840.45L354.90 844.04L355.15 848.11L355.40 852.05L355.65 855.26L355.90 857.26L356.15 857.70L356.40 856.48L356.65 853.74L356.90 849.84L357.15 845.32L357.40 840.80L357.65 836.92L357.90 834.26L358.15 833.19L358.40 833.87L358.65 836.22L358.90 839.90L359.15 844.37L359.40 848.98L359.65 853.04L359.90 855.94L360.15 857.21L360.40 856.64L360.65 854.26L360.90 850.39L361.15 845.54L361.40 840.40L361.65 835.70L361.90 832.11L362.15 830.17L362.40 830.17L362.65 832.13L362.90 835.77L363.15 840.58L363.40 845.87L363.65 850.85L363.90 854.77L364.15 857.04L364.40 857.29L364.65 855.42L364.90 851.66L365.15 846.52L365.40 840.71L365.65 835.05L365.90 830.37L366.15 827.34L366.40 826.44L366.65 827.81L366.90 831.28L367.15 836.38L367.40 842.37L367.65 848.39L367.90 853.53L368.15 857.03L368.40 858.32L368.65 857.16L368.90 853.66L369.15 848.27L369.40 841.74L369.65 834.98L369.90 828.97L370.15 824.58L370.40 822.48L370.65 823.02L370.90 826.15L371.15 831.46L371.40 838.21L371.65 845.41L372.00 870.00L372.50 779.40L373.50 891.90L373.75 882.52L374.00 875.92L374.25 871.41L374.50 868.28L374.75 865.85L375.00 863.55L375.25 860.97L375.50 857.93L375.75 854.46L376.00 850.75L376.25 847.14L376.50 844.02L376.75 841.75L377.00 840.59L377.25 840.65L377.50 841.88L377.75 844.03L378.00 846.73L378.25 849.53L378.50 851.94L378.75 853.54L379.00 854.05L379.25 853.33L379.50 851.43L379.75 848.59L380.00 845.20L380.25 841.72L380.50 838.65L380.75 836.42L381.00 835.36L381.25 835.63L381.50 837.17L381.75 839.77L382.00 843.05L382.25 846.51L382.50 849.66L382.75 852.00L383.00 853.19L383.25 853.03L383.50 851.52L383.75 848.86L384.00 845.41L384.25 841.66L384.50 838.15L384.75 835.37L385.00 833.74L385.25 833.49L385.50 834.66L385.75 837.08L386.00 840.42L386.25 844.18L386.50 847.81L386.75 850.78L387.00 852.63L387.25 853.08L387.50 852.03L387.75 849.62L388.00 846.16L388.25 842.15L388.50 838.14L388.75 834.72L389.00 832.38L389.25 831.47L389.50 832.13L389.75 834.28L390.00 837.61L390.25 841.66L390.50 845.82L390.75 849.49L391.00 852.11L391.25 853.29L391.50 852.81L391.75 850.72L392.00 847.28L392.25 842.97L392.50 838.39L392.75 834.20L393.00 831.00L393.25 829.28L393.50 829.30L393.75 831.07L394.00 834.37L394.25 838.73L394.50 843.53L394.75 848.06L395.00 851.65L395.25 853.75L395.50 854.01L395.75 852.36L396.00 848.97L396.25 844.32L396.50 839.03L396.75 833.86L397.00 829.57L397.25 826.78L397.50 825.94L397.75 827.19L398.00 830.41L398.25 835.14L398.50 840.73L398.75 846.37L399.00 851.23L399.25 854.57L399.50 855.85L399.75 854.82L400.00 851.57L400.25 846.51L400.50 840.33L400.75 833.89L401.00 828.12L401.25 823.88L401.50 821.82L401.75 822.30L402.00 825.31L402.25 830.47L402.50 837.07L402.75 844.19L403.00 850.77L403.25 855.83L403.50 858.58L403.75 858.52L404.00 855.58L404.25 850.08L404.50 842.76L404.75 834.62L405.00 826.81L405.25 820.51L405.50 816.66L405.75 815.91L406.00 818.47L406.25 824.05L406.50 831.93L406.75 841.02L407.20 872.00L407.70 693.90L408.70 955.70L408.95 945.10L409.20 935.72L409.45 927.38L409.70 919.98L409.95 913.48L410.20 907.88L410.45 903.16L410.70 899.29L410.95 896.16L411.20 893.63L411.45 891.50L411.70 889.57L411.95 887.63L412.20 885.52L412.45 883.12L412.70 880.41L412.95 877.46L413.20 874.39L413.45 871.40L413.70 868.70L413.95 866.48L414.20 864.89L414.45 864.01L414.70 863.82L414.95 864.19L415.20 864.93L415.45 865.77L415.70 866.45L415.95 866.72L416.20 866.37L416.45 865.32L416.70 863.58L416.95 861.27L417.20 858.61L417.45 855.90L417.70 853.42L417.95 851.48L418.20 850.28L418.45 849.94L418.70 850.46L418.95 851.70L419.20 853.42L419.45 855.32L419.70 857.05L419.95 858.29L420.20 858.78L420.45 858.39L420.70 857.08L420.95 854.99L421.20 852.36L421.45 849.50L421.70 846.80L421.95 844.60L422.20 843.19L422.45 842.75L422.70 843.33L422.95 844.82L423.20 846.97L423.45 849.45L423.70 851.87L423.95 853.83L424.20 855.00L424.45 855.18L424.70 854.28L424.95 852.39L425.20 849.73L425.45 846.66L425.70 843.58L425.95 840.92L426.20 839.06L426.45 838.24L426.70 838.59L426.95 840.04L427.20 842.39L427.45 845.27L427.70 848.26L427.95 850.90L428.20 852.76L428.45 853.55L428.70 853.11L428.95 851.46L429.20 848.79L429.45 845.45L429.70 841.91L429.95 838.65L430.20 836.14L430.45 834.74L430.70 834.65L430.95 835.91L431.20 838.33L431.45 841.56L431.70 845.13L431.95 848.52L432.20 851.19L432.45 852.73L432.70 852.87L432.95 851.54L433.20 848.88L433.45 845.24L433.70 841.12L433.95 837.07L434.20 833.70L434.45 831.47L434.70 830.75L434.95 831.64L435.20 834.05L435.45 837.64L435.70 841.90L435.95 846.21L436.20 849.91L436.45 852.44L436.70 853.38L436.95 852.53L437.20 849.95L437.45 845.97L437.70 841.10L437.95 836.02L438.20 831.46L438.45 828.09L438.70 826.42L438.95 826.73L439.20 829.01L439.45 832.98L439.70 838.09L439.95 843.60L440.20 848.70L440.45 852.62L440.70 854.72L440.95 854.63L441.20 852.27L441.45 847.91L441.70 842.10L441.95 835.64L442.20 829.44L442.45 824.41L442.70 821.32L442.95 820.67L443.20 822.62L443.45 826.96L443.70 833.12L443.95 840.24L444.20 847.29L444.45 853.21L444.70 857.07L444.95 858.22L445.20 856.37L445.45 851.67L445.70 844.70L445.95 836.38L446.20 827.88L446.45 820.44L446.70 815.17L446.95 812.93L447.20 814.14L447.45 818.74L447.70 826.18L447.95 835.44L448.50 872.00L449.00 646.90L450.00 974.10L450.25 961.85L450.50 951.17L450.75 941.70L451.00 933.20L451.25 925.52L451.50 918.60L451.75 912.44L452.00 907.06L452.25 902.49L452.50 898.74L452.75 895.74L453.00 893.39L453.25 891.51L453.50 889.90L453.75 888.33L454.00 886.61L454.25 884.58L454.50 882.18L454.75 879.41L455.00 876.37L455.25 873.24L455.50 870.23L455.75 867.58L456.00 865.48L456.25 864.07L456.50 863.41L456.75 863.44L457.00 864.01L457.25 864.90L457.50 865.83L457.75 866.51L458.00 866.70L458.25 866.22L458.50 865.01L458.75 863.09L459.00 860.63L459.25 857.87L459.50 855.12L459.75 852.68L460.00 850.85L460.25 849.81L460.50 849.66L460.75 850.37L461.00 851.77L461.25 853.61L461.50 855.55L461.75 857.24L462.00 858.37L462.25 858.70L462.50 858.11L462.75 856.62L463.00 854.36L463.25 851.62L463.50 848.74L463.75 846.08L464.00 844.00L464.25 842.77L464.50 842.54L464.75 843.33L465.00 844.99L465.25 847.27L465.50 849.79L465.75 852.17L466.00 854.01L466.25 855.01L466.50 854.97L466.75 853.85L467.00 851.77L467.25 848.99L467.50 845.86L467.75 842.82L468.00 840.29L468.25 838.61L468.50 838.03L468.75 838.61L469.00 840.28L469.25 842.78L469.50 845.73L469.75 848.70L470.00 851.22L470.25 852.90L470.50 853.45L470.75 852.76L471.00 850.88L471.25 848.03L471.50 844.61L471.75 841.08L472.00 837.93L472.25 835.61L472.50 834.46L472.75 834.66L473.00 836.17L473.25 838.79L473.50 842.14L473.75 845.73L474.00 849.02L474.25 851.50L474.50 852.78L474.75 852.62L475.00 851.01L475.25 848.12L475.50 844.34L475.75 840.17L476.00 836.22L476.25 833.03L476.50 831.09L476.75 830.69L477.00 831.91L477.25 834.59L477.50 838.36L477.75 842.69L478.00 846.93L478.25 850.45L478.50 852.69L478.75 853.28L479.00 852.07L479.25 849.18L479.50 844.97L479.75 840.00L480.00 834.97L480.25 830.59L480.50 827.53L480.75 826.24L481.00 826.95L481.25 829.61L481.50 833.86L481.75 839.12L482.00 844.62L482.25 849.54L482.50 853.15L482.75 854.83L483.00 854.29L483.25 851.50L483.50 846.79L483.75 840.78L484.00 834.30L484.25 828.26L484.50 823.57L484.75 820.94L485.00 820.80L485.25 823.27L485.50 828.03L485.75 834.46L486.00 841.66L486.25 848.56L486.50 854.14L486.75 857.51L487.00 858.07L487.25 855.62L487.50 850.41L487.75 843.08L488.00 834.63L488.25 826.25L488.50 819.16L488.75 814.44L489.00 812.87L489.25 814.78L489.50 820.02L489.75 827.91L490.00 837.39L490.50 880.00L491.00 624.00L492.00 983.50L492.25 969.18L492.50 955.84L492.75 943.22L493.00 931.38L493.25 920.62L493.50 911.39L493.75 904.12L494.00 899.05L494.25 896.21L494.50 895.30L494.75 895.72L495.00 896.69L495.25 897.31L495.50 896.77L495.75 894.41L496.00 889.95L496.25 883.44L496.50 875.35L496.75 866.48L497.00 857.82L497.25 850.44L497.50 845.26L497.75 842.93L498.00 843.71L498.25 847.38L498.50 853.30L498.75 860.44L499.00 867.60L499.25 873.51L499.50 877.07L499.75 877.52L500.00 874.57L500.25 868.10L500.50 859.45L500.75 849.78L501.00 840.43L501.25 832.67L501.50 827.49L501.75 825.51L502.00 826.86L502.25 831.19L502.50 837.71L502.75 845.36L503.00 852.93L503.25 859.26L503.50 863.42L503.75 864.82L504.00 863.29L504.25 859.09L504.50 852.86L504.75 845.51L505.00 838.10L505.25 831.63L505.50 826.97L505.75 824.69L506.00 825.00L506.25 827.74L506.50 832.44L506.75 838.32L507.00 844.50L507.25 850.08L507.50 854.25L507.75 856.44L508.00 856.37L508.25 854.07L508.50 849.90L508.75 844.45L509.00 838.51L509.25 832.89L509.50 828.37L509.75 825.56L510.00 824.84L510.25 826.28L510.50 829.68L510.75 834.53L511.00 840.16L511.25 845.75L511.50 850.51L511.75 853.74L512.00 854.94L512.25 853.90L512.50 850.72L512.75 845.79L513.00 839.78L513.25 833.51L513.50 827.87L513.75 823.71L514.00 821.65L514.25 822.09L514.50 825.02L514.75 830.13L515.00 836.74L515.25 843.93L515.50 850.68L515.75 855.96L516.00 858.93L516.25 859.04L516.50 856.16L516.75 850.56L517.00 842.96L517.25 834.39L517.50 826.08L517.75 819.28L518.00 815.05L518.25 814.16L518.50 816.87L518.75 822.95L519.00 831.63L519.25 841.73L519.50 851.81L519.75 860.36L520.00 866.04L520.25 867.87L520.50 865.43L520.75 858.91L521.00 849.11L521.25 837.38L521.50 825.38L521.75 814.89L522.00 807.54L522.25 804.53L522.50 806.46L522.75 813.22L523.00 823.95L523.25 837.19L523.50 851.04L523.75 863.48L524.00 872.60L524.25 876.96L524.50 875.77L524.75 869.07L525.00 857.69L525.25 843.22L525.50 827.73L525.75 813.47L526.00 802.60L526.25 796.79L526.50 797.01L526.75 803.34L527.00 814.96L527.25 830.25L527.50 847.00L527.75 862.79L528.00 875.25L528.25 882.51L528.50 883.44L528.75 877.82L529.00 866.40L529.25 850.81L529.50 833.31L529.75 816.44L530.00 802.70L530.25 794.12L530.50 791.98L530.75 796.63L531.00 807.41L531.25 822.76L531.50 840.44L531.75 857.86L532.00 872.47L532.25 882.14L532.50 885.47L532.75 881.99L533.00 872.24L533.25 857.67L533.50 840.44L533.75 823.07L534.00 808.11L534.25 797.70L534.50 793.33L534.75 795.57L535.00 804.02L535.25 817.36L535.50 833.61L535.75 850.35L536.00 865.15L536.25 875.89L536.50 881.08L536.75 880.07L537.00 873.11L537.25 861.34L537.50 846.56L537.75 830.98L538.00 816.86L538.25 806.22L538.50 800.52L538.75 800.46L539.00 805.89L539.25 815.90L539.50 828.91L539.75 842.95L540.00 855.98L540.25 866.14L540.50 872.06L540.75 873.02L541.00 869.04L541.25 860.86L541.50 849.81L541.75 837.56L542.00 825.93L542.25 816.56L542.50 810.72L542.75 809.12L543.00 811.81L543.25 818.25L543.50 827.38L543.75 837.77L544.00 847.89L544.25 856.30L544.50 861.88L544.75 863.94L545.00 862.34L545.25 857.45L545.50 850.13L545.75 841.50L546.00 832.86L546.25 825.44L546.50 820.23L546.75 817.89L547.00 818.63L547.25 822.22L547.50 828.03L547.75 835.16L548.00 842.54L548.25 849.13L548.50 854.02L548.75 856.60L549.00 856.57L549.25 854.03L549.50 849.41L549.75 843.44L550.00 836.98L550.25 830.96L550.50 826.22L550.75 823.38L551.00 822.81L551.25 824.55L551.50 828.32L551.75 833.58L552.00 839.55L552.25 845.41L552.50 850.33L552.75 853.61L553.00 854.80L553.25 853.71L553.50 850.48L553.75 845.55L554.00 839.60L554.25 833.46L554.50 828.01L554.75 824.03L555.00 822.15L555.25 822.67L555.50 825.60L555.75 830.58L556.00 836.95L556.25 843.85L556.50 850.27L556.75 855.28L557.00 858.07L557.25 858.17L557.50 855.43L557.75 850.16L558.00 843.02L558.25 834.98L558.50 827.20L558.75 820.84L559.00 816.90L559.25 816.08L559.50 818.64L559.75 824.35L560.00 832.50L560.25 841.99L560.50 851.46L560.75 859.51L561.00 864.87L561.25 866.62L561.50 864.36L561.75 858.25L562.00 849.03L562.25 837.96L562.50 826.62L562.75 816.67L563.00 809.68L563.25 806.78L563.50 808.57L563.75 814.97L564.00 825.17L564.25 837.81L564.50 851.08L564.75 863.03L565.00 871.84L565.25 876.09L565.50 875.01L565.75 868.60L566.00 857.66L566.25 843.67L566.50 828.64L566.75 814.76L567.00 804.12L567.25 798.39L567.50 798.53L567.75 804.66L568.00 816.00L568.25 831.00L568.50 847.50L568.75 863.10L569.00 875.47L569.25 882.74L569.50 883.75L569.75 878.24L570.00 866.94L570.25 851.42L570.50 833.93L570.75 817.02L571.00 803.17L571.25 794.46L571.50 792.22L571.75 796.83L572.00 807.66L572.25 823.17L572.50 841.10L572.75 858.84L573.00 873.79L573.25 883.75L573.50 887.24L573.75 883.77L574.00 873.83L574.25 858.89L574.50 841.13L574.75 823.18L575.00 807.63L575.25 796.77L575.50 792.14L575.75 794.38L576.00 803.11L576.25 817.01L576.50 834.00L576.75 851.59L577.00 867.19L577.25 878.58L577.50 884.14L577.75 883.16L578.00 875.86L578.25 863.42L578.50 847.72L578.75 831.10L579.00 815.98L579.25 804.54L579.50 798.35L579.75 798.20L580.00 803.98L580.25 814.72L580.50 828.75L580.75 843.95L581.00 858.11L581.25 869.20L581.50 875.71L581.75 876.82L582.00 872.53L582.25 863.63L582.50 851.53L582.75 838.08L583.00 825.27L583.25 814.91L583.50 808.42L583.75 806.59L584.00 809.53L584.25 816.64L584.50 826.75L584.75 838.30L585.00 849.57L585.25 858.97L585.50 865.21L585.75 867.54L586.00 865.76L586.25 860.32L586.50 852.12L586.75 842.47L587.00 832.79L587.25 824.47L587.50 818.63L587.75 816.02L588.00 816.86L588.25 820.89L588.50 827.40L588.75 835.37L589.00 843.61L589.25 850.94L589.50 856.35L589.75 859.17L590.00 859.09L590.25 856.24L590.50 851.11L590.75 844.53L591.00 837.45L591.25 830.90L591.50 825.78L591.75 822.77L592.00 822.23L592.25 824.18L592.50 828.27L592.75 833.90L593.00 840.24L593.25 846.38L593.50 851.48L593.75 854.83L594.00 855.97L594.25 854.76L594.50 851.38L594.75 846.31L595.00 840.25L595.25 834.07L595.50 828.64L595.75 824.73L596.00 822.93L596.25 823.52L596.50 826.47L596.75 831.40L597.00 837.65L597.25 844.37L597.50 850.58L597.75 855.39L598.00 858.05L598.25 858.10L598.50 855.43L598.75 850.35L599.00 843.50L599.25 835.81L599.50 828.38L599.75 822.32L600.00 818.58L600.25 817.80L600.50 820.25L600.75 825.69L601.00 833.45L601.25 842.50L601.50 851.54L601.75 859.23L602.00 864.36L602.25 866.06L602.50 863.92L602.75 858.09L603.00 849.27L603.25 838.66L603.50 827.74L603.75 818.15L604.00 811.37L604.25 808.53L604.50 810.22L604.75 816.36L605.00 826.23L605.25 838.50L605.50 851.42L605.75 863.11L606.00 871.76L606.25 875.99L606.50 875.00L606.75 868.77L607.00 858.04L607.25 844.26L607.50 829.40L607.75 815.61L608.00 805.00L608.25 799.22L608.50 799.27L608.75 805.32L609.00 816.61L609.25 831.61L609.50 848.20L609.75 863.94L610.00 876.50L610.25 883.93L610.50 885.05L610.75 879.54L611.00 868.11L611.25 852.33L611.50 834.46L611.75 817.09L612.00 802.81L612.25 793.76L612.50 791.35L612.75 796.01L613.00 807.14L613.25 823.19L613.50 841.82L613.75 860.34L614.00 876.02L614.25 886.53L614.50 890.31L614.75 886.76L615.00 876.38L615.25 860.66L615.50 841.89L615.75 822.82L616.00 806.25L616.25 794.58L616.50 789.53L616.75 791.82L617.00 813.83L617.25 823.78L617.50 836.09L617.75 848.98L618.10 872.00L618.60 762.70L619.60 912.00L619.85 899.91L620.10 890.53L620.35 882.80L620.60 875.99L620.85 869.69L621.10 863.79L621.35 858.39L621.60 853.71L621.85 850.03L622.10 847.57L622.35 846.44L622.60 846.58L622.85 847.78L623.10 849.67L623.35 851.80L623.60 853.70L623.85 854.94L624.10 855.19L624.35 854.32L624.60 852.34L624.85 849.47L625.10 846.06L625.35 842.58L625.60 839.50L625.85 837.25L626.10 836.14L626.35 836.32L626.60 837.77L626.85 840.27L627.10 843.43L627.35 846.79L627.60 849.83L627.85 852.11L628.10 853.26L628.35 853.08L628.60 851.59L628.85 848.97L629.10 845.58L629.35 841.91L629.60 838.46L629.85 835.74L630.10 834.14L630.35 833.88L630.60 835.02L630.85 837.39L631.10 840.65L631.35 844.32L631.60 847.86L631.85 850.74L632.10 852.54L632.35 852.97L632.60 851.94L632.85 849.58L633.10 846.21L633.35 842.30L633.60 838.40L633.85 835.08L634.10 832.80L634.35 831.92L634.60 832.57L634.85 834.65L635.10 837.88L635.35 841.79L635.60 845.82L635.85 849.36L636.10 851.89L636.35 853.02L636.60 852.55L636.85 850.52L637.10 847.20L637.35 843.03L637.60 838.62L637.85 834.58L638.10 831.50L638.35 829.85L638.60 829.87L638.85 831.57L639.10 834.74L639.35 838.92L639.60 843.52L639.85 847.85L640.10 851.28L640.35 853.28L640.60 853.51L640.85 851.92L641.10 848.68L641.35 844.23L641.60 839.18L641.85 834.26L642.10 830.17L642.35 827.53L642.60 826.73L642.85 827.93L643.10 830.98L643.35 835.47L643.60 840.77L643.85 846.10L644.10 850.69L644.35 853.83L644.60 855.02L644.85 854.04L645.10 850.96L645.35 846.17L645.60 840.34L645.85 834.27L646.10 828.84L646.35 824.86L646.60 822.94L646.85 823.39L647.10 826.22L647.35 831.06L647.60 837.24L647.85 843.90L648.10 850.04L648.35 854.76L648.60 857.31L648.85 857.24L649.10 854.47L649.35 849.34L649.60 842.51L649.85 834.92L650.10 827.66L650.35 821.80L650.60 818.24L650.85 817.55L651.10 819.93L651.35 825.11L651.60 832.41L651.85 840.82L652.30 872.00L652.80 648.50L653.80 975.80L654.05 963.31L654.30 952.67L654.55 943.48L654.80 935.37L655.05 928.06L655.30 921.32L655.55 915.05L655.80 909.19L656.05 903.78L656.30 898.92L656.55 894.70L656.80 891.21L657.05 888.48L657.30 886.48L657.55 885.09L657.80 884.13L658.05 883.37L658.30 882.57L658.55 881.48L658.80 879.95L659.05 877.89L659.30 875.30L659.55 872.30L659.80 869.11L660.05 865.97L660.30 863.18L660.55 860.97L660.80 859.54L661.05 858.97L661.30 859.22L661.55 860.14L661.80 861.47L662.05 862.89L662.30 864.08L662.55 864.71L662.80 864.56L663.05 863.51L663.30 861.59L663.55 858.96L663.80 855.88L664.05 852.72L664.30 849.84L664.55 847.61L664.80 846.30L665.05 846.04L665.30 846.83L665.55 848.52L665.80 850.82L666.05 853.33L666.30 855.63L666.55 857.31L666.80 858.07L667.05 857.70L667.30 856.18L667.55 853.66L667.80 850.42L668.05 846.89L668.30 843.53L668.55 840.79L668.80 839.05L669.05 838.55L669.30 839.35L669.55 841.32L669.80 844.17L670.05 847.47L670.30 850.70L670.55 853.36L670.80 855.01L671.05 855.34L671.30 854.24L671.55 851.81L671.80 848.35L672.05 844.29L672.30 840.20L672.55 836.64L672.80 834.12L673.05 833.02L673.30 833.50L673.55 835.51L673.80 838.77L674.05 842.81L674.30 847.02L674.55 850.79L674.80 853.50L675.05 854.72L675.30 854.19L675.55 851.93L675.80 848.19L676.05 843.45L676.30 838.37L676.55 833.66L676.80 829.99L677.05 827.92L677.30 827.78L677.55 829.62L677.80 833.22L678.05 838.07L678.30 843.48L678.55 848.66L678.80 852.81L679.05 855.27L679.30 855.60L679.55 853.67L679.80 849.67L680.05 844.09L680.30 837.69L680.55 831.37L680.80 826.04L681.05 822.49L681.30 821.30L681.55 822.69L681.80 826.55L682.05 832.35L682.30 839.31L682.55 846.40L682.80 852.58L683.05 856.88L683.30 858.58L683.55 857.32L683.80 853.14L684.05 846.55L684.30 838.42L684.55 829.85L684.80 822.09L685.05 816.30L685.30 813.38L685.55 813.87L685.80 817.79L686.05 824.69L686.30 833.64L686.55 843.39L686.90 870.00L687.40 642.80L688.40 984.20L688.65 970.84L688.90 959.27L689.15 949.13L689.40 940.14L689.65 932.10L689.90 924.87L690.15 918.40L690.40 912.66L690.65 907.63L690.90 903.30L691.15 899.64L691.40 896.58L691.65 894.03L691.90 891.85L692.15 889.88L692.40 887.98L692.65 886.01L692.90 883.89L693.15 881.57L693.40 879.07L693.65 876.46L693.90 873.87L694.15 871.42L694.40 869.27L694.65 867.53L694.90 866.27L695.15 865.52L695.40 865.21L695.65 865.23L695.90 865.44L696.15 865.66L696.40 865.69L696.65 865.41L696.90 864.71L697.15 863.56L697.40 862.00L697.65 860.16L697.90 858.18L698.15 856.26L698.40 854.60L698.65 853.35L698.90 852.62L699.15 852.45L699.40 852.79L699.65 853.54L699.90 854.51L700.15 855.49L700.40 856.29L700.65 856.72L700.90 856.66L701.15 856.04L701.40 854.90L701.65 853.35L701.90 851.56L702.15 849.74L702.40 848.11L702.65 846.88L702.90 846.17L703.15 846.07L703.40 846.55L703.65 847.51L703.90 848.78L704.15 850.14L704.40 851.36L704.65 852.23L704.90 852.58L705.15 852.34L705.40 851.50L705.65 850.14L705.90 848.44L706.15 846.62L706.40 844.90L706.65 843.53L706.90 842.66L707.15 842.42L707.40 842.82L707.65 843.78L707.90 845.14L708.15 846.69L708.40 848.18L708.65 849.38L708.90 850.08L709.15 850.16L709.40 849.59L709.65 848.42L709.90 846.80L710.15 844.94L710.40 843.09L710.65 841.52L710.90 840.42L711.15 839.94L711.40 840.15L711.65 841.00L711.90 842.35L712.15 844.00L712.40 845.69L712.65 847.17L712.90 848.19L713.15 848.59L713.40 848.30L713.65 847.32L713.90 845.79L714.15 843.90L714.40 841.92L714.65 840.11L714.90 838.73L715.15 837.96L715.40 837.91L715.65 838.58L715.90 839.86L716.15 841.57L716.40 843.43L716.65 845.17L716.90 846.52L717.15 847.26L717.40 847.27L717.65 846.52L717.90 845.11L718.15 843.20L718.40 841.07L718.65 839.01L718.90 837.31L719.15 836.19L719.40 835.83L719.65 836.27L719.90 837.43L720.15 839.15L720.40 841.18L720.65 843.19L720.90 844.90" fill="none" stroke="rgb(78,156,212)" stroke-width="1.2" stroke-linejoin="round"/><rect x="255.0" y="168.0" width="463.5" height="363.0" fill="none" stroke="#b3b3b3" stroke-width="1.6"/><line x1="255.0" y1="349.5" x2="260.0" y2="349.5" stroke="#b3b3b3" stroke-width="1.4"/><line x1="718.5" y1="349.5" x2="713.5" y2="349.5" stroke="#b3b3b3" stroke-width="1.4"/><line x1="486.75" y1="531.0" x2="486.75" y2="526.0" stroke="#b3b3b3" stroke-width="1.4"/><line x1="486.75" y1="168.0" x2="486.75" y2="173.0" stroke="#b3b3b3" stroke-width="1.4"/><rect x="257.0" y="623.3" width="464.29999999999995" height="362.70000000000005" fill="none" stroke="#b3b3b3" stroke-width="1.6"/><line x1="257.0" y1="650.0" x2="262.0" y2="650.0" stroke="#b3b3b3" stroke-width="1.4"/><line x1="721.3" y1="650.0" x2="716.3" y2="650.0" stroke="#b3b3b3" stroke-width="1.4"/><line x1="257.0" y1="754.3" x2="262.0" y2="754.3" stroke="#b3b3b3" stroke-width="1.4"/><line x1="721.3" y1="754.3" x2="716.3" y2="754.3" stroke="#b3b3b3" stroke-width="1.4"/><line x1="257.0" y1="858.7" x2="262.0" y2="858.7" stroke="#b3b3b3" stroke-width="1.4"/><line x1="721.3" y1="858.7" x2="716.3" y2="858.7" stroke="#b3b3b3" stroke-width="1.4"/><line x1="257.0" y1="961.0" x2="262.0" y2="961.0" stroke="#b3b3b3" stroke-width="1.4"/><line x1="721.3" y1="961.0" x2="716.3" y2="961.0" stroke="#b3b3b3" stroke-width="1.4"/><line x1="489.15" y1="986.0" x2="489.15" y2="981.0" stroke="#b3b3b3" stroke-width="1.4"/><line x1="489.15" y1="623.3" x2="489.15" y2="628.3" stroke="#b3b3b3" stroke-width="1.4"/><text x="240.0" y="180.9" font-family='"Liberation Sans", sans-serif' font-size="36" text-anchor="end" font-weight="normal" fill="#262626">0.5</text><text x="240.5" y="362.0" font-family='"Liberation Sans", sans-serif' font-size="36" text-anchor="end" font-weight="normal" fill="#262626">0</text><text x="240.4" y="544.4" font-family='"Liberation Sans", sans-serif' font-size="36" text-anchor="end" font-weight="normal" fill="#262626" textLength="69" lengthAdjust="spacingAndGlyphs">&#8722;0.5</text><text x="254.5" y="577.2" font-family='"Liberation Sans", sans-serif' font-size="36" text-anchor="middle" font-weight="normal" fill="#262626">0</text><text x="487.0" y="577.2" font-family='"Liberation Sans", sans-serif' font-size="36" text-anchor="middle" font-weight="normal" fill="#262626">500</text><text x="719.6" y="577.2" font-family='"Liberation Sans", sans-serif' font-size="36" text-anchor="middle" font-weight="normal" fill="#262626">1000</text><text x="244.0" y="663.0" font-family='"Liberation Sans", sans-serif' font-size="36" text-anchor="end" font-weight="normal" fill="#262626">0.2</text><text x="244.0" y="767.0" font-family='"Liberation Sans", sans-serif' font-size="36" text-anchor="end" font-weight="normal" fill="#262626">0</text><text x="244.0" y="871.5" font-family='"Liberation Sans", sans-serif' font-size="36" text-anchor="end" font-weight="normal" fill="#262626" textLength="69" lengthAdjust="spacingAndGlyphs">&#8722;0.2</text><text x="244.0" y="973.8" font-family='"Liberation Sans", sans-serif' font-size="36" text-anchor="end" font-weight="normal" fill="#262626" textLength="69" lengthAdjust="spacingAndGlyphs">&#8722;0.4</text><text x="257.0" y="1033.7" font-family='"Liberation Sans", sans-serif' font-size="36" text-anchor="middle" font-weight="normal" fill="#262626">0</text><text x="489.2" y="1033.7" font-family='"Liberation Sans", sans-serif' font-size="36" text-anchor="middle" font-weight="normal" fill="#262626">500</text><text x="721.3" y="1033.7" font-family='"Liberation Sans", sans-serif' font-size="36" text-anchor="middle" font-weight="normal" fill="#262626">1000</text><text x="473.5" y="1070.6" font-family='"Liberation Serif", serif' font-size="43.5" text-anchor="middle" font-weight="normal" fill="#000" textLength="218" lengthAdjust="spacingAndGlyphs">Time [msec]</text><defs><filter id="hblur" x="-2%" y="-2%" width="104%" height="104%" color-interpolation-filters="sRGB"><feGaussianBlur stdDeviation="1.4"/></filter></defs><g filter="url(#hblur)"><g transform="translate(974.2,176.4) scale(4.62051,4.60769)" shape-rendering="crispEdges"><rect x="0" y="0" width="78" height="78" fill="rgb(0, 120, 255)"/><path fill="rgb(90,0,0)" d="M0 0h1v1h-1zM1 1h1v1h-1zM2 2h1v1h-1zM3 3h1v1h-1zM4 4h1v1h-1zM5 5h1v1h-1zM6 6h1v1h-1zM7 7h1v1h-1zM8 8h1v1h-1zM9 9h1v1h-1zM10 10h1v1h-1zM11 11h1v1h-1zM12 12h1v1h-1zM13 13h1v1h-1zM14 14h1v1h-1zM15 15h1v1h-1zM16 16h1v1h-1zM17 17h1v1h-1zM18 18h1v1h-1zM19 19h1v1h-1zM20 20h1v1h-1zM21 21h1v1h-1zM22 22h1v1h-1zM23 23h1v1h-1zM24 24h1v1h-1zM25 25h1v1h-1zM26 26h1v1h-1zM27 27h1v1h-1zM28 28h1v1h-1zM29 29h1v1h-1zM30 30h1v1h-1zM31 31h1v1h-1zM32 32h1v1h-1zM33 33h1v1h-1zM34 34h1v1h-1zM35 35h1v1h-1zM36 36h1v1h-1zM37 37h1v1h-1zM38 38h1v1h-1zM39 39h1v1h-1zM40 40h1v1h-1zM41 41h1v1h-1zM42 42h1v1h-1zM43 43h1v1h-1zM44 44h1v1h-1zM45 45h1v1h-1zM46 46h1v1h-1zM47 47h1v1h-1zM48 48h1v1h-1zM49 49h1v1h-1zM50 50h1v1h-1zM51 51h1v1h-1zM52 52h1v1h-1zM53 53h1v1h-1zM54 54h1v1h-1zM55 55h1v1h-1zM56 56h1v1h-1zM57 57h1v1h-1zM58 58h1v1h-1zM59 59h1v1h-1zM60 60h1v1h-1zM61 61h1v1h-1zM62 62h1v1h-1zM63 63h1v1h-1zM64 64h1v1h-1zM65 65h1v1h-1zM66 66h1v1h-1zM67 67h1v1h-1zM68 68h1v1h-1zM69 69h1v1h-1zM70 70h1v1h-1zM71 71h1v1h-1zM72 72h1v1h-1zM73 73h1v1h-1zM74 74h1v1h-1zM75 75h1v1h-1zM76 76h1v1h-1zM77 77h1v1h-1z"/><path fill="rgb(33,255,222)" d="M1 0h2v1h-2zM4 0h2v1h-2zM11 0h2v1h-2zM14 0h1v1h-1zM16 0h2v1h-2zM19 0h1v1h-1zM21 0h2v1h-2zM24 0h1v1h-1zM31 0h2v1h-2zM44 0h2v1h-2zM60 0h1v1h-1zM72 0h1v1h-1zM0 1h1v1h-1zM2 1h1v1h-1zM6 1h5v1h-5zM13 1h6v1h-6zM21 1h2v1h-2zM24 1h2v1h-2zM28 1h3v1h-3zM38 1h1v1h-1zM40 1h1v1h-1zM43 1h1v1h-1zM45 1h2v1h-2zM56 1h7v1h-7zM67 1h7v1h-7zM76 1h1v1h-1zM0 2h2v1h-2zM13 2h1v1h-1zM20 2h2v1h-2zM31 2h2v1h-2zM34 2h1v1h-1zM36 2h3v1h-3zM10 3h1v1h-1zM20 3h2v1h-2zM31 3h2v1h-2zM36 3h3v1h-3zM0 4h1v1h-1zM6 4h5v1h-5zM13 4h1v1h-1zM18 4h1v1h-1zM33 4h3v1h-3zM37 4h1v1h-1zM42 4h1v1h-1zM62 4h2v1h-2zM68 4h1v1h-1zM70 4h1v1h-1zM0 5h1v1h-1zM8 5h1v1h-1zM13 5h1v1h-1zM32 5h1v1h-1zM35 5h1v1h-1zM41 5h1v1h-1zM44 5h1v1h-1zM46 5h1v1h-1zM62 5h1v1h-1zM69 5h2v1h-2zM76 5h1v1h-1zM1 6h1v1h-1zM4 6h1v1h-1zM13 6h1v1h-1zM19 6h1v1h-1zM31 6h2v1h-2zM45 6h2v1h-2zM58 6h1v1h-1zM61 6h1v1h-1zM72 6h1v1h-1zM76 6h1v1h-1zM1 7h1v1h-1zM4 7h1v1h-1zM13 7h1v1h-1zM16 7h1v1h-1zM19 7h1v1h-1zM31 7h2v1h-2zM45 7h2v1h-2zM58 7h1v1h-1zM61 7h1v1h-1zM72 7h1v1h-1zM1 8h1v1h-1zM4 8h2v1h-2zM13 8h1v1h-1zM16 8h1v1h-1zM19 8h1v1h-1zM31 8h2v1h-2zM45 8h2v1h-2zM58 8h1v1h-1zM60 8h2v1h-2zM70 8h1v1h-1zM72 8h1v1h-1zM1 9h1v1h-1zM4 9h1v1h-1zM13 9h1v1h-1zM16 9h1v1h-1zM19 9h1v1h-1zM31 9h2v1h-2zM45 9h2v1h-2zM58 9h1v1h-1zM61 9h1v1h-1zM63 9h1v1h-1zM72 9h1v1h-1zM1 10h1v1h-1zM3 10h2v1h-2zM13 10h1v1h-1zM19 10h1v1h-1zM31 10h2v1h-2zM45 10h2v1h-2zM58 10h1v1h-1zM61 10h1v1h-1zM63 10h1v1h-1zM72 10h1v1h-1zM0 11h1v1h-1zM30 11h3v1h-3zM36 11h1v1h-1zM45 11h2v1h-2zM52 11h1v1h-1zM76 11h1v1h-1zM0 12h1v1h-1zM29 12h4v1h-4zM36 12h1v1h-1zM39 12h1v1h-1zM43 12h4v1h-4zM52 12h1v1h-1zM76 12h1v1h-1zM1 13h2v1h-2zM4 13h7v1h-7zM31 13h2v1h-2zM36 13h1v1h-1zM44 13h2v1h-2zM52 13h1v1h-1zM76 13h1v1h-1zM0 14h2v1h-2zM18 14h1v1h-1zM31 14h2v1h-2zM45 14h2v1h-2zM68 14h1v1h-1zM76 14h1v1h-1zM1 15h1v1h-1zM31 15h2v1h-2zM36 15h1v1h-1zM46 15h1v1h-1zM76 15h1v1h-1zM0 16h2v1h-2zM7 16h3v1h-3zM32 16h1v1h-1zM36 16h1v1h-1zM41 16h1v1h-1zM46 16h1v1h-1zM62 16h1v1h-1zM68 16h2v1h-2zM76 16h1v1h-1zM0 17h2v1h-2zM31 17h2v1h-2zM45 17h2v1h-2zM68 17h2v1h-2zM76 17h1v1h-1zM1 18h1v1h-1zM4 18h1v1h-1zM14 18h1v1h-1zM19 18h1v1h-1zM31 18h2v1h-2zM45 18h2v1h-2zM58 18h1v1h-1zM76 18h1v1h-1zM0 19h1v1h-1zM6 19h5v1h-5zM18 19h1v1h-1zM32 19h1v1h-1zM36 19h1v1h-1zM41 19h1v1h-1zM44 19h1v1h-1zM46 19h1v1h-1zM61 19h1v1h-1zM67 19h5v1h-5zM73 19h1v1h-1zM76 19h2v1h-2zM2 20h2v1h-2zM25 20h3v1h-3zM29 20h2v1h-2zM32 20h2v1h-2zM36 20h1v1h-1zM45 20h2v1h-2zM49 20h2v1h-2zM57 20h1v1h-1zM66 20h1v1h-1zM73 20h1v1h-1zM76 20h1v1h-1zM0 21h4v1h-4zM30 21h3v1h-3zM36 21h1v1h-1zM44 21h3v1h-3zM49 21h2v1h-2zM57 21h1v1h-1zM66 21h1v1h-1zM76 21h1v1h-1zM0 22h2v1h-2zM31 22h6v1h-6zM56 22h1v1h-1zM65 22h1v1h-1zM76 22h1v1h-1zM34 23h1v1h-1zM52 23h1v1h-1zM56 23h1v1h-1zM65 23h1v1h-1zM76 23h1v1h-1zM0 24h2v1h-2zM34 24h1v1h-1zM52 24h1v1h-1zM56 24h1v1h-1zM65 24h1v1h-1zM76 24h1v1h-1zM1 25h1v1h-1zM20 25h1v1h-1zM34 25h1v1h-1zM52 25h1v1h-1zM56 25h1v1h-1zM65 25h1v1h-1zM76 25h1v1h-1zM20 26h1v1h-1zM34 26h1v1h-1zM65 26h1v1h-1zM20 27h1v1h-1zM34 27h1v1h-1zM65 27h1v1h-1zM1 28h1v1h-1zM34 28h1v1h-1zM65 28h1v1h-1zM1 29h1v1h-1zM12 29h1v1h-1zM20 29h1v1h-1zM34 29h1v1h-1zM65 29h1v1h-1zM1 30h1v1h-1zM11 30h2v1h-2zM20 30h2v1h-2zM34 30h1v1h-1zM65 30h1v1h-1zM0 31h1v1h-1zM2 31h2v1h-2zM6 31h10v1h-10zM17 31h2v1h-2zM21 31h2v1h-2zM37 31h3v1h-3zM42 31h2v1h-2zM56 31h1v1h-1zM58 31h2v1h-2zM61 31h1v1h-1zM66 31h3v1h-3zM70 31h2v1h-2zM76 31h1v1h-1zM0 32h1v1h-1zM2 32h2v1h-2zM5 32h18v1h-18zM34 32h1v1h-1zM36 32h3v1h-3zM41 32h5v1h-5zM56 32h1v1h-1zM58 32h5v1h-5zM66 32h6v1h-6zM76 32h1v1h-1zM4 33h1v1h-1zM20 33h1v1h-1zM22 33h1v1h-1zM37 33h2v1h-2zM40 33h1v1h-1zM44 33h2v1h-2zM60 33h1v1h-1zM76 33h1v1h-1zM2 34h1v1h-1zM4 34h1v1h-1zM22 34h9v1h-9zM32 34h1v1h-1zM36 34h1v1h-1zM45 34h1v1h-1zM57 34h1v1h-1zM72 34h1v1h-1zM76 34h1v1h-1zM4 35h2v1h-2zM22 35h1v1h-1zM45 35h1v1h-1zM72 35h1v1h-1zM76 35h1v1h-1zM2 36h2v1h-2zM11 36h3v1h-3zM15 36h2v1h-2zM19 36h4v1h-4zM32 36h1v1h-1zM34 36h1v1h-1zM37 36h4v1h-4zM42 36h1v1h-1zM44 36h1v1h-1zM59 36h1v1h-1zM65 36h1v1h-1zM76 36h1v1h-1zM2 37h3v1h-3zM31 37h3v1h-3zM36 37h1v1h-1zM39 37h1v1h-1zM44 37h2v1h-2zM72 37h1v1h-1zM76 37h1v1h-1zM1 38h3v1h-3zM31 38h3v1h-3zM36 38h1v1h-1zM39 38h1v1h-1zM42 38h4v1h-4zM53 38h1v1h-1zM76 38h1v1h-1zM12 39h1v1h-1zM31 39h1v1h-1zM36 39h3v1h-3zM40 39h1v1h-1zM44 39h5v1h-5zM51 39h1v1h-1zM54 39h1v1h-1zM73 39h3v1h-3zM1 40h1v1h-1zM33 40h1v1h-1zM36 40h1v1h-1zM39 40h1v1h-1zM45 40h1v1h-1zM52 40h2v1h-2zM73 40h1v1h-1zM5 41h1v1h-1zM16 41h1v1h-1zM19 41h1v1h-1zM32 41h1v1h-1zM45 41h1v1h-1zM49 41h1v1h-1zM53 41h1v1h-1zM58 41h1v1h-1zM60 41h1v1h-1zM64 41h1v1h-1zM4 42h1v1h-1zM31 42h2v1h-2zM36 42h1v1h-1zM38 42h1v1h-1zM45 42h1v1h-1zM49 42h1v1h-1zM52 42h2v1h-2zM57 42h1v1h-1zM64 42h1v1h-1zM73 42h1v1h-1zM1 43h1v1h-1zM12 43h1v1h-1zM31 43h2v1h-2zM38 43h1v1h-1zM45 43h1v1h-1zM49 43h1v1h-1zM52 43h2v1h-2zM64 43h1v1h-1zM0 44h1v1h-1zM5 44h1v1h-1zM12 44h2v1h-2zM19 44h1v1h-1zM21 44h1v1h-1zM32 44h2v1h-2zM36 44h4v1h-4zM49 44h1v1h-1zM0 45h2v1h-2zM6 45h9v1h-9zM17 45h2v1h-2zM20 45h2v1h-2zM32 45h4v1h-4zM37 45h7v1h-7zM49 45h1v1h-1zM56 45h3v1h-3zM60 45h13v1h-13zM74 45h1v1h-1zM1 46h1v1h-1zM5 46h8v1h-8zM14 46h8v1h-8zM39 46h1v1h-1zM49 46h1v1h-1zM56 46h1v1h-1zM58 46h1v1h-1zM61 46h1v1h-1zM64 46h3v1h-3zM72 46h1v1h-1zM39 47h1v1h-1zM39 48h1v1h-1zM55 48h1v1h-1zM20 49h2v1h-2zM41 49h6v1h-6zM20 50h2v1h-2zM56 50h1v1h-1zM39 51h1v1h-1zM55 51h1v1h-1zM11 52h3v1h-3zM23 52h3v1h-3zM40 52h1v1h-1zM42 52h2v1h-2zM56 52h2v1h-2zM65 52h1v1h-1zM38 53h1v1h-1zM40 53h4v1h-4zM56 53h1v1h-1zM39 54h1v1h-1zM55 54h2v1h-2zM48 55h1v1h-1zM51 55h1v1h-1zM54 55h1v1h-1zM56 55h1v1h-1zM65 55h7v1h-7zM76 55h1v1h-1zM1 56h1v1h-1zM22 56h4v1h-4zM31 56h2v1h-2zM45 56h2v1h-2zM50 56h1v1h-1zM52 56h4v1h-4zM73 56h1v1h-1zM1 57h1v1h-1zM20 57h2v1h-2zM34 57h1v1h-1zM42 57h1v1h-1zM45 57h1v1h-1zM52 57h1v1h-1zM73 57h1v1h-1zM1 58h1v1h-1zM6 58h5v1h-5zM18 58h1v1h-1zM31 58h2v1h-2zM41 58h1v1h-1zM45 58h2v1h-2zM59 58h1v1h-1zM62 58h2v1h-2zM67 58h1v1h-1zM69 58h2v1h-2zM1 59h1v1h-1zM31 59h2v1h-2zM36 59h1v1h-1zM58 59h1v1h-1zM72 59h1v1h-1zM76 59h1v1h-1zM0 60h2v1h-2zM8 60h1v1h-1zM32 60h2v1h-2zM41 60h1v1h-1zM45 60h1v1h-1zM68 60h2v1h-2zM71 60h1v1h-1zM76 60h1v1h-1zM1 61h1v1h-1zM6 61h5v1h-5zM19 61h1v1h-1zM31 61h2v1h-2zM45 61h2v1h-2zM68 61h1v1h-1zM71 61h1v1h-1zM76 61h1v1h-1zM1 62h1v1h-1zM4 62h2v1h-2zM16 62h1v1h-1zM32 62h1v1h-1zM45 62h1v1h-1zM58 62h1v1h-1zM72 62h1v1h-1zM76 62h1v1h-1zM4 63h1v1h-1zM9 63h2v1h-2zM45 63h1v1h-1zM58 63h1v1h-1zM69 63h1v1h-1zM76 63h1v1h-1zM41 64h3v1h-3zM45 64h2v1h-2zM74 64h1v1h-1zM76 64h1v1h-1zM22 65h9v1h-9zM36 65h1v1h-1zM45 65h2v1h-2zM52 65h1v1h-1zM55 65h1v1h-1zM73 65h1v1h-1zM20 66h2v1h-2zM31 66h2v1h-2zM45 66h2v1h-2zM55 66h1v1h-1zM73 66h2v1h-2zM76 66h1v1h-1zM1 67h1v1h-1zM19 67h1v1h-1zM31 67h2v1h-2zM45 67h1v1h-1zM55 67h1v1h-1zM58 67h1v1h-1zM73 67h1v1h-1zM1 68h1v1h-1zM4 68h1v1h-1zM14 68h1v1h-1zM16 68h2v1h-2zM19 68h1v1h-1zM31 68h2v1h-2zM45 68h1v1h-1zM55 68h1v1h-1zM60 68h2v1h-2zM72 68h1v1h-1zM76 68h1v1h-1zM1 69h1v1h-1zM5 69h1v1h-1zM16 69h2v1h-2zM19 69h1v1h-1zM32 69h1v1h-1zM45 69h1v1h-1zM55 69h1v1h-1zM58 69h1v1h-1zM60 69h1v1h-1zM63 69h1v1h-1zM72 69h1v1h-1zM76 69h1v1h-1zM1 70h1v1h-1zM4 70h2v1h-2zM8 70h1v1h-1zM19 70h1v1h-1zM31 70h2v1h-2zM45 70h1v1h-1zM55 70h1v1h-1zM58 70h1v1h-1zM76 70h2v1h-2zM1 71h1v1h-1zM19 71h1v1h-1zM31 71h2v1h-2zM45 71h1v1h-1zM55 71h1v1h-1zM60 71h2v1h-2zM72 71h1v1h-1zM76 71h1v1h-1zM0 72h2v1h-2zM6 72h5v1h-5zM34 72h2v1h-2zM37 72h1v1h-1zM45 72h2v1h-2zM59 72h1v1h-1zM62 72h1v1h-1zM68 72h2v1h-2zM71 72h1v1h-1zM76 72h1v1h-1zM1 73h1v1h-1zM19 73h2v1h-2zM39 73h2v1h-2zM42 73h1v1h-1zM56 73h2v1h-2zM65 73h3v1h-3zM39 74h1v1h-1zM45 74h1v1h-1zM64 74h1v1h-1zM66 74h1v1h-1zM76 74h1v1h-1zM39 75h1v1h-1zM1 76h1v1h-1zM5 76h2v1h-2zM11 76h15v1h-15zM31 76h8v1h-8zM55 76h1v1h-1zM59 76h6v1h-6zM66 76h1v1h-1zM68 76h5v1h-5zM74 76h1v1h-1zM19 77h1v1h-1zM70 77h1v1h-1z"/><path fill="rgb(142,255,113)" d="M3 0h1v1h-1zM18 0h1v1h-1zM58 0h2v1h-2zM62 0h1v1h-1zM69 0h2v1h-2zM77 0h1v1h-1zM4 1h2v1h-2zM11 1h2v1h-2zM19 1h2v1h-2zM31 1h1v1h-1zM37 1h1v1h-1zM41 1h2v1h-2zM44 1h1v1h-1zM11 2h2v1h-2zM0 3h1v1h-1zM11 3h3v1h-3zM1 4h1v1h-1zM11 4h2v1h-2zM14 4h1v1h-1zM17 4h1v1h-1zM31 4h2v1h-2zM41 4h1v1h-1zM44 4h3v1h-3zM59 4h1v1h-1zM67 4h1v1h-1zM76 4h1v1h-1zM1 5h1v1h-1zM6 5h2v1h-2zM9 5h2v1h-2zM19 5h1v1h-1zM31 5h1v1h-1zM36 5h1v1h-1zM45 5h1v1h-1zM61 5h1v1h-1zM67 5h1v1h-1zM5 6h1v1h-1zM14 6h1v1h-1zM5 7h1v1h-1zM60 7h1v1h-1zM63 7h1v1h-1zM76 7h1v1h-1zM14 8h1v1h-1zM63 8h1v1h-1zM5 9h1v1h-1zM14 9h1v1h-1zM76 9h1v1h-1zM5 10h1v1h-1zM68 10h1v1h-1zM76 10h1v1h-1zM1 11h4v1h-4zM22 11h3v1h-3zM26 11h1v1h-1zM29 11h1v1h-1zM39 11h3v1h-3zM43 11h2v1h-2zM56 11h2v1h-2zM65 11h2v1h-2zM1 12h4v1h-4zM22 12h3v1h-3zM26 12h1v1h-1zM28 12h1v1h-1zM40 12h3v1h-3zM56 12h2v1h-2zM65 12h2v1h-2zM3 13h1v1h-1zM22 13h1v1h-1zM26 13h1v1h-1zM28 13h3v1h-3zM39 13h5v1h-5zM56 13h2v1h-2zM65 13h2v1h-2zM4 14h1v1h-1zM6 14h1v1h-1zM8 14h2v1h-2zM15 14h2v1h-2zM19 14h1v1h-1zM58 14h1v1h-1zM62 14h1v1h-1zM67 14h1v1h-1zM69 14h1v1h-1zM14 15h1v1h-1zM16 15h1v1h-1zM19 15h1v1h-1zM45 15h1v1h-1zM58 15h1v1h-1zM61 15h1v1h-1zM72 15h1v1h-1zM77 15h1v1h-1zM14 16h2v1h-2zM18 16h1v1h-1zM31 16h1v1h-1zM45 16h1v1h-1zM58 16h2v1h-2zM67 16h1v1h-1zM71 16h1v1h-1zM77 16h1v1h-1zM4 17h1v1h-1zM18 17h2v1h-2zM58 17h1v1h-1zM77 17h1v1h-1zM0 18h1v1h-1zM16 18h2v1h-2zM61 18h1v1h-1zM63 18h1v1h-1zM72 18h1v1h-1zM1 19h1v1h-1zM5 19h1v1h-1zM14 19h2v1h-2zM17 19h1v1h-1zM31 19h1v1h-1zM35 19h1v1h-1zM59 19h1v1h-1zM62 19h2v1h-2zM1 20h1v1h-1zM22 20h3v1h-3zM28 20h1v1h-1zM31 20h1v1h-1zM39 20h3v1h-3zM44 20h1v1h-1zM22 21h3v1h-3zM26 21h1v1h-1zM28 21h2v1h-2zM33 21h1v1h-1zM39 21h5v1h-5zM56 21h1v1h-1zM65 21h1v1h-1zM11 22h3v1h-3zM20 22h2v1h-2zM37 22h2v1h-2zM11 23h2v1h-2zM20 23h2v1h-2zM37 23h2v1h-2zM11 24h2v1h-2zM20 24h2v1h-2zM37 24h2v1h-2zM37 25h2v1h-2zM11 26h3v1h-3zM21 26h1v1h-1zM37 26h2v1h-2zM37 27h2v1h-2zM12 28h2v1h-2zM20 28h2v1h-2zM37 28h2v1h-2zM11 29h1v1h-1zM13 29h1v1h-1zM21 29h1v1h-1zM37 29h2v1h-2zM13 30h1v1h-1zM37 30h2v1h-2zM1 31h1v1h-1zM4 31h2v1h-2zM16 31h1v1h-1zM19 31h2v1h-2zM33 31h2v1h-2zM36 31h1v1h-1zM41 31h1v1h-1zM44 31h2v1h-2zM62 31h1v1h-1zM69 31h1v1h-1zM4 32h1v1h-1zM33 32h1v1h-1zM35 32h1v1h-1zM57 32h1v1h-1zM72 32h1v1h-1zM21 33h1v1h-1zM31 33h2v1h-2zM36 33h1v1h-1zM39 33h1v1h-1zM43 33h1v1h-1zM56 33h2v1h-2zM72 33h1v1h-1zM31 34h1v1h-1zM39 34h1v1h-1zM44 34h1v1h-1zM65 34h1v1h-1zM19 35h1v1h-1zM32 35h1v1h-1zM36 35h1v1h-1zM39 35h1v1h-1zM44 35h1v1h-1zM65 35h1v1h-1zM5 36h1v1h-1zM31 36h1v1h-1zM33 36h1v1h-1zM35 36h1v1h-1zM43 36h1v1h-1zM56 36h1v1h-1zM1 37h1v1h-1zM22 37h9v1h-9zM40 37h1v1h-1zM42 37h2v1h-2zM22 38h9v1h-9zM40 38h2v1h-2zM11 39h1v1h-1zM13 39h1v1h-1zM20 39h2v1h-2zM33 39h3v1h-3zM41 39h1v1h-1zM43 39h1v1h-1zM50 39h1v1h-1zM52 39h2v1h-2zM64 39h1v1h-1zM76 39h1v1h-1zM11 40h3v1h-3zM20 40h2v1h-2zM37 40h2v1h-2zM44 40h1v1h-1zM50 40h1v1h-1zM64 40h1v1h-1zM76 40h1v1h-1zM1 41h1v1h-1zM4 41h1v1h-1zM11 41h3v1h-3zM20 41h2v1h-2zM31 41h1v1h-1zM38 41h2v1h-2zM44 41h1v1h-1zM56 41h2v1h-2zM65 41h1v1h-1zM73 41h1v1h-1zM76 41h1v1h-1zM1 42h1v1h-1zM12 42h2v1h-2zM21 42h1v1h-1zM37 42h1v1h-1zM44 42h1v1h-1zM76 42h1v1h-1zM11 43h1v1h-1zM13 43h1v1h-1zM21 43h1v1h-1zM33 43h1v1h-1zM36 43h2v1h-2zM39 43h1v1h-1zM73 43h1v1h-1zM1 44h1v1h-1zM4 44h1v1h-1zM11 44h1v1h-1zM20 44h1v1h-1zM31 44h1v1h-1zM34 44h2v1h-2zM40 44h3v1h-3zM56 44h1v1h-1zM64 44h2v1h-2zM73 44h1v1h-1zM76 44h1v1h-1zM4 45h2v1h-2zM15 45h2v1h-2zM31 45h1v1h-1zM59 45h1v1h-1zM76 45h1v1h-1zM4 46h1v1h-1zM60 46h1v1h-1zM76 46h1v1h-1zM55 47h1v1h-1zM55 49h2v1h-2zM65 49h1v1h-1zM74 49h1v1h-1zM39 50h2v1h-2zM55 50h1v1h-1zM74 50h1v1h-1zM39 52h1v1h-1zM55 52h1v1h-1zM39 53h1v1h-1zM55 53h1v1h-1zM65 53h1v1h-1zM65 54h1v1h-1zM75 54h1v1h-1zM47 55h1v1h-1zM49 55h2v1h-2zM52 55h2v1h-2zM64 55h1v1h-1zM75 55h1v1h-1zM11 56h3v1h-3zM21 56h1v1h-1zM33 56h1v1h-1zM36 56h1v1h-1zM41 56h1v1h-1zM44 56h1v1h-1zM49 56h1v1h-1zM76 56h1v1h-1zM11 57h3v1h-3zM32 57h2v1h-2zM41 57h1v1h-1zM76 57h1v1h-1zM0 58h1v1h-1zM14 58h4v1h-4zM60 58h2v1h-2zM68 58h1v1h-1zM71 58h1v1h-1zM73 58h1v1h-1zM76 58h1v1h-1zM0 59h1v1h-1zM4 59h1v1h-1zM16 59h1v1h-1zM19 59h1v1h-1zM45 59h1v1h-1zM61 59h1v1h-1zM63 59h1v1h-1zM7 60h1v1h-1zM46 60h1v1h-1zM58 60h1v1h-1zM62 60h1v1h-1zM67 60h1v1h-1zM5 61h1v1h-1zM15 61h1v1h-1zM18 61h1v1h-1zM58 61h2v1h-2zM62 61h1v1h-1zM67 61h1v1h-1zM70 61h1v1h-1zM0 62h1v1h-1zM14 62h1v1h-1zM19 62h1v1h-1zM31 62h1v1h-1zM60 62h2v1h-2zM63 62h1v1h-1zM7 63h2v1h-2zM18 63h2v1h-2zM59 63h1v1h-1zM62 63h1v1h-1zM67 63h1v1h-1zM70 63h1v1h-1zM39 64h2v1h-2zM44 64h1v1h-1zM55 64h1v1h-1zM75 64h1v1h-1zM11 65h3v1h-3zM21 65h1v1h-1zM34 65h2v1h-2zM41 65h1v1h-1zM44 65h1v1h-1zM49 65h1v1h-1zM53 65h2v1h-2zM74 65h1v1h-1zM76 65h1v1h-1zM11 66h3v1h-3zM4 67h2v1h-2zM14 67h1v1h-1zM16 67h1v1h-1zM60 67h2v1h-2zM63 67h1v1h-1zM72 67h1v1h-1zM76 67h2v1h-2zM10 68h1v1h-1zM58 68h1v1h-1zM0 69h1v1h-1zM14 69h1v1h-1zM31 69h1v1h-1zM0 70h1v1h-1zM61 70h1v1h-1zM63 70h1v1h-1zM72 70h1v1h-1zM16 71h1v1h-1zM58 71h1v1h-1zM15 72h1v1h-1zM18 72h1v1h-1zM32 72h2v1h-2zM67 72h1v1h-1zM70 72h1v1h-1zM41 73h1v1h-1zM43 73h2v1h-2zM58 73h1v1h-1zM76 73h1v1h-1zM49 74h2v1h-2zM65 74h1v1h-1zM54 75h2v1h-2zM64 75h1v1h-1zM4 76h1v1h-1zM7 76h1v1h-1zM9 76h2v1h-2zM39 76h4v1h-4zM44 76h3v1h-3zM56 76h3v1h-3zM65 76h1v1h-1zM67 76h1v1h-1zM73 76h1v1h-1zM0 77h1v1h-1zM15 77h3v1h-3zM67 77h1v1h-1z"/><path fill="rgb(255,120,0)" d="M6 0h1v1h-1zM8 0h1v1h-1zM68 0h1v1h-1zM3 2h1v1h-1zM23 2h1v1h-1zM25 2h1v1h-1zM27 2h1v1h-1zM2 3h1v1h-1zM26 3h1v1h-1zM28 3h1v1h-1zM30 3h1v1h-1zM15 4h1v1h-1zM19 4h1v1h-1zM72 4h1v1h-1zM16 5h2v1h-2zM60 5h1v1h-1zM72 5h1v1h-1zM0 6h1v1h-1zM7 6h1v1h-1zM10 6h1v1h-1zM67 6h2v1h-2zM6 7h1v1h-1zM10 7h1v1h-1zM18 7h1v1h-1zM59 7h1v1h-1zM69 7h1v1h-1zM71 7h1v1h-1zM77 7h1v1h-1zM0 8h1v1h-1zM15 8h1v1h-1zM17 8h1v1h-1zM67 8h1v1h-1zM77 8h1v1h-1zM10 9h1v1h-1zM59 9h1v1h-1zM62 9h1v1h-1zM71 9h1v1h-1zM77 9h1v1h-1zM6 10h2v1h-2zM9 10h1v1h-1zM15 10h1v1h-1zM17 10h1v1h-1zM59 10h1v1h-1zM62 10h1v1h-1zM69 10h1v1h-1zM71 10h1v1h-1zM12 11h1v1h-1zM21 11h1v1h-1zM34 11h2v1h-2zM37 11h2v1h-2zM11 12h1v1h-1zM21 12h1v1h-1zM20 13h2v1h-2zM24 13h2v1h-2zM27 13h1v1h-1zM34 13h2v1h-2zM37 13h2v1h-2zM70 14h1v1h-1zM72 14h1v1h-1zM4 15h1v1h-1zM8 15h1v1h-1zM10 15h1v1h-1zM67 15h2v1h-2zM5 16h1v1h-1zM17 16h1v1h-1zM19 16h1v1h-1zM60 16h1v1h-1zM63 16h1v1h-1zM72 16h1v1h-1zM5 17h1v1h-1zM8 17h1v1h-1zM10 17h1v1h-1zM16 17h1v1h-1zM63 17h1v1h-1zM72 17h1v1h-1zM7 18h1v1h-1zM67 18h1v1h-1zM4 19h1v1h-1zM16 19h1v1h-1zM58 19h1v1h-1zM60 19h1v1h-1zM13 20h1v1h-1zM37 20h2v1h-2zM11 21h3v1h-3zM34 21h2v1h-2zM37 21h2v1h-2zM2 23h1v1h-1zM13 24h1v1h-1zM2 25h1v1h-1zM13 25h1v1h-1zM26 25h1v1h-1zM29 25h1v1h-1zM3 26h1v1h-1zM25 26h1v1h-1zM2 27h1v1h-1zM13 27h1v1h-1zM3 28h1v1h-1zM25 29h1v1h-1zM3 30h1v1h-1zM34 33h2v1h-2zM41 33h1v1h-1zM11 34h1v1h-1zM13 34h1v1h-1zM21 34h1v1h-1zM33 34h1v1h-1zM38 34h1v1h-1zM42 34h1v1h-1zM11 35h1v1h-1zM13 35h1v1h-1zM21 35h1v1h-1zM33 35h1v1h-1zM38 35h1v1h-1zM42 35h1v1h-1zM41 36h1v1h-1zM57 36h1v1h-1zM72 36h1v1h-1zM11 37h1v1h-1zM13 37h1v1h-1zM20 37h2v1h-2zM11 38h1v1h-1zM13 38h1v1h-1zM20 38h2v1h-2zM34 38h2v1h-2zM56 38h1v1h-1zM65 38h1v1h-1zM42 39h1v1h-1zM56 39h1v1h-1zM42 40h1v1h-1zM56 40h1v1h-1zM33 41h1v1h-1zM36 41h1v1h-1zM43 41h1v1h-1zM34 42h2v1h-2zM39 42h2v1h-2zM65 42h1v1h-1zM41 43h1v1h-1zM57 46h1v1h-1zM49 47h1v1h-1zM52 47h1v1h-1zM54 47h1v1h-1zM74 47h1v1h-1zM51 48h1v1h-1zM54 48h1v1h-1zM47 49h1v1h-1zM51 49h1v1h-1zM53 49h2v1h-2zM53 50h1v1h-1zM64 50h1v1h-1zM48 51h2v1h-2zM52 51h1v1h-1zM54 51h1v1h-1zM74 51h1v1h-1zM47 52h1v1h-1zM51 52h1v1h-1zM64 52h1v1h-1zM49 53h2v1h-2zM54 53h1v1h-1zM74 53h1v1h-1zM47 54h3v1h-3zM51 54h1v1h-1zM53 54h1v1h-1zM64 54h1v1h-1zM74 55h1v1h-1zM38 56h3v1h-3zM65 56h1v1h-1zM36 57h1v1h-1zM46 57h1v1h-1zM65 57h1v1h-1zM19 58h1v1h-1zM7 59h1v1h-1zM9 59h2v1h-2zM67 59h3v1h-3zM5 60h1v1h-1zM16 60h1v1h-1zM19 60h1v1h-1zM70 60h1v1h-1zM72 60h1v1h-1zM72 61h1v1h-1zM9 62h2v1h-2zM67 62h1v1h-1zM16 63h2v1h-2zM50 64h1v1h-1zM52 64h1v1h-1zM54 64h1v1h-1zM38 65h1v1h-1zM42 65h1v1h-1zM56 65h2v1h-2zM6 67h1v1h-1zM8 67h1v1h-1zM15 67h1v1h-1zM18 67h1v1h-1zM59 67h1v1h-1zM62 67h1v1h-1zM69 67h3v1h-3zM0 68h1v1h-1zM6 68h1v1h-1zM15 68h1v1h-1zM59 68h1v1h-1zM7 69h1v1h-1zM10 69h1v1h-1zM59 69h1v1h-1zM67 69h1v1h-1zM14 70h1v1h-1zM60 70h1v1h-1zM67 70h1v1h-1zM7 71h1v1h-1zM9 71h2v1h-2zM67 71h1v1h-1zM4 72h2v1h-2zM14 72h1v1h-1zM16 72h2v1h-2zM36 72h1v1h-1zM60 72h2v1h-2zM47 74h1v1h-1zM51 74h1v1h-1zM53 74h1v1h-1zM55 74h1v1h-1zM7 77h3v1h-3z"/><path fill="rgb(255,237,0)" d="M7 0h1v1h-1zM10 0h1v1h-1zM15 0h1v1h-1zM61 0h1v1h-1zM67 0h1v1h-1zM32 1h5v1h-5zM23 3h3v1h-3zM27 3h1v1h-1zM29 3h1v1h-1zM5 4h1v1h-1zM16 4h1v1h-1zM36 4h1v1h-1zM60 4h2v1h-2zM73 4h1v1h-1zM4 5h1v1h-1zM15 5h1v1h-1zM18 5h1v1h-1zM58 5h2v1h-2zM16 6h2v1h-2zM60 6h1v1h-1zM63 6h1v1h-1zM70 6h1v1h-1zM77 6h1v1h-1zM0 7h1v1h-1zM8 7h2v1h-2zM14 7h1v1h-1zM17 7h1v1h-1zM67 7h2v1h-2zM70 7h1v1h-1zM7 8h1v1h-1zM76 8h1v1h-1zM7 9h1v1h-1zM17 9h1v1h-1zM60 9h1v1h-1zM67 9h1v1h-1zM70 9h1v1h-1zM0 10h1v1h-1zM14 10h1v1h-1zM16 10h1v1h-1zM18 10h1v1h-1zM60 10h1v1h-1zM67 10h1v1h-1zM70 10h1v1h-1zM77 10h1v1h-1zM13 11h1v1h-1zM25 11h1v1h-1zM27 11h2v1h-2zM42 11h1v1h-1zM13 12h1v1h-1zM25 12h1v1h-1zM27 12h1v1h-1zM11 13h2v1h-2zM23 13h1v1h-1zM7 14h1v1h-1zM10 14h1v1h-1zM59 14h1v1h-1zM61 14h1v1h-1zM71 14h1v1h-1zM0 15h1v1h-1zM5 15h1v1h-1zM17 15h1v1h-1zM60 15h1v1h-1zM63 15h1v1h-1zM70 15h1v1h-1zM4 16h1v1h-1zM6 16h1v1h-1zM10 16h1v1h-1zM61 16h1v1h-1zM70 16h1v1h-1zM6 17h2v1h-2zM9 17h1v1h-1zM15 17h1v1h-1zM59 17h1v1h-1zM61 17h2v1h-2zM67 17h1v1h-1zM71 17h1v1h-1zM5 18h1v1h-1zM10 18h1v1h-1zM60 18h1v1h-1zM70 18h1v1h-1zM77 18h1v1h-1zM45 19h1v1h-1zM72 19h1v1h-1zM42 20h2v1h-2zM56 20h1v1h-1zM65 20h1v1h-1zM25 21h1v1h-1zM27 21h1v1h-1zM23 22h8v1h-8zM3 23h1v1h-1zM13 23h1v1h-1zM22 23h1v1h-1zM3 24h1v1h-1zM22 24h1v1h-1zM3 25h1v1h-1zM11 25h2v1h-2zM21 25h2v1h-2zM22 26h1v1h-1zM3 27h1v1h-1zM11 27h2v1h-2zM21 27h2v1h-2zM11 28h1v1h-1zM22 28h1v1h-1zM3 29h1v1h-1zM22 29h1v1h-1zM22 30h1v1h-1zM32 31h1v1h-1zM35 31h1v1h-1zM57 31h1v1h-1zM60 31h1v1h-1zM72 31h1v1h-1zM1 32h1v1h-1zM31 32h1v1h-1zM1 33h1v1h-1zM42 33h1v1h-1zM1 34h1v1h-1zM40 34h2v1h-2zM43 34h1v1h-1zM56 34h1v1h-1zM1 35h1v1h-1zM31 35h1v1h-1zM40 35h2v1h-2zM43 35h1v1h-1zM56 35h1v1h-1zM1 36h1v1h-1zM4 36h1v1h-1zM45 36h1v1h-1zM41 37h1v1h-1zM56 37h1v1h-1zM65 37h1v1h-1zM49 39h1v1h-1zM57 39h1v1h-1zM34 40h2v1h-2zM41 40h1v1h-1zM43 40h1v1h-1zM49 40h1v1h-1zM34 41h2v1h-2zM37 41h1v1h-1zM40 41h1v1h-1zM42 41h1v1h-1zM11 42h1v1h-1zM20 42h1v1h-1zM33 42h1v1h-1zM41 42h1v1h-1zM20 43h1v1h-1zM34 43h2v1h-2zM40 43h1v1h-1zM44 43h1v1h-1zM76 43h1v1h-1zM43 44h1v1h-1zM45 44h1v1h-1zM19 45h1v1h-1zM36 45h1v1h-1zM44 45h1v1h-1zM46 45h1v1h-1zM73 45h1v1h-1zM45 46h1v1h-1zM73 46h1v1h-1zM50 47h1v1h-1zM64 47h1v1h-1zM49 48h2v1h-2zM64 48h1v1h-1zM74 48h1v1h-1zM39 49h2v1h-2zM48 49h1v1h-1zM50 49h1v1h-1zM47 50h3v1h-3zM51 50h1v1h-1zM65 50h1v1h-1zM50 51h1v1h-1zM64 51h1v1h-1zM74 52h2v1h-2zM64 53h1v1h-1zM75 53h1v1h-1zM74 54h1v1h-1zM20 56h1v1h-1zM34 56h2v1h-2zM37 56h1v1h-1zM64 56h1v1h-1zM31 57h1v1h-1zM39 57h1v1h-1zM64 57h1v1h-1zM5 58h1v1h-1zM72 58h1v1h-1zM5 59h1v1h-1zM14 59h1v1h-1zM17 59h1v1h-1zM60 59h1v1h-1zM70 59h1v1h-1zM73 59h1v1h-1zM4 60h1v1h-1zM6 60h1v1h-1zM9 60h2v1h-2zM15 60h1v1h-1zM18 60h1v1h-1zM31 60h1v1h-1zM59 60h1v1h-1zM61 60h1v1h-1zM73 60h1v1h-1zM0 61h1v1h-1zM4 61h1v1h-1zM14 61h1v1h-1zM16 61h2v1h-2zM60 61h1v1h-1zM63 61h1v1h-1zM73 61h1v1h-1zM17 62h1v1h-1zM70 62h1v1h-1zM6 63h1v1h-1zM15 63h1v1h-1zM61 63h1v1h-1zM68 63h1v1h-1zM71 63h1v1h-1zM47 64h2v1h-2zM51 64h1v1h-1zM53 64h1v1h-1zM56 64h2v1h-2zM65 64h1v1h-1zM20 65h1v1h-1zM37 65h1v1h-1zM50 65h1v1h-1zM64 65h1v1h-1zM0 67h1v1h-1zM7 67h1v1h-1zM9 67h2v1h-2zM17 67h1v1h-1zM68 67h1v1h-1zM7 68h1v1h-1zM63 68h1v1h-1zM67 68h1v1h-1zM70 68h1v1h-1zM70 69h1v1h-1zM6 70h2v1h-2zM9 70h2v1h-2zM15 70h2v1h-2zM18 70h1v1h-1zM59 70h1v1h-1zM62 70h1v1h-1zM68 70h2v1h-2zM71 70h1v1h-1zM14 71h1v1h-1zM17 71h1v1h-1zM63 71h1v1h-1zM70 71h1v1h-1zM19 72h1v1h-1zM31 72h1v1h-1zM58 72h1v1h-1zM4 73h1v1h-1zM45 73h2v1h-2zM59 73h3v1h-3zM48 74h1v1h-1zM52 74h1v1h-1zM54 74h1v1h-1zM52 75h2v1h-2zM8 76h1v1h-1zM43 76h1v1h-1zM6 77h1v1h-1zM10 77h1v1h-1zM18 77h1v1h-1z"/><path fill="rgb(255,4,0)" d="M9 0h1v1h-1zM24 2h1v1h-1zM28 2h1v1h-1zM63 5h1v1h-1zM15 7h1v1h-1zM62 7h1v1h-1zM9 8h2v1h-2zM18 8h1v1h-1zM68 8h1v1h-1zM0 9h1v1h-1zM8 9h1v1h-1zM15 9h1v1h-1zM18 9h1v1h-1zM68 9h2v1h-2zM8 10h1v1h-1zM20 11h1v1h-1zM20 12h1v1h-1zM34 12h1v1h-1zM37 12h2v1h-2zM7 15h1v1h-1zM9 15h1v1h-1zM60 17h1v1h-1zM70 17h1v1h-1zM8 18h2v1h-2zM68 18h1v1h-1zM57 19h1v1h-1zM11 20h2v1h-2zM35 20h1v1h-1zM25 23h3v1h-3zM29 23h1v1h-1zM2 24h1v1h-1zM25 24h3v1h-3zM29 24h1v1h-1zM23 25h2v1h-2zM28 25h1v1h-1zM30 25h1v1h-1zM23 26h2v1h-2zM28 26h1v1h-1zM23 27h2v1h-2zM28 27h3v1h-3zM2 28h1v1h-1zM25 28h3v1h-3zM29 28h2v1h-2zM23 29h2v1h-2zM27 29h2v1h-2zM25 30h1v1h-1zM27 30h2v1h-2zM12 34h1v1h-1zM37 34h1v1h-1zM20 35h1v1h-1zM37 35h1v1h-1zM12 37h1v1h-1zM34 37h2v1h-2zM12 38h1v1h-1zM65 39h1v1h-1zM65 40h1v1h-1zM43 42h1v1h-1zM56 42h1v1h-1zM42 43h1v1h-1zM56 43h1v1h-1zM65 43h1v1h-1zM53 47h1v1h-1zM52 48h2v1h-2zM64 49h1v1h-1zM54 50h1v1h-1zM53 51h1v1h-1zM48 52h1v1h-1zM53 52h2v1h-2zM47 53h2v1h-2zM51 53h2v1h-2zM50 54h1v1h-1zM52 54h1v1h-1zM42 56h2v1h-2zM19 57h1v1h-1zM17 60h1v1h-1zM63 60h1v1h-1zM7 62h1v1h-1zM69 62h1v1h-1zM5 63h1v1h-1zM60 63h1v1h-1zM49 64h1v1h-1zM39 65h2v1h-2zM43 65h1v1h-1zM8 68h2v1h-2zM18 68h1v1h-1zM69 68h1v1h-1zM77 68h1v1h-1zM9 69h1v1h-1zM62 69h1v1h-1zM68 69h1v1h-1zM17 70h1v1h-1zM75 74h1v1h-1zM74 75h1v1h-1zM68 77h1v1h-1z"/><path fill="rgb(0,178,255)" d="M13 0h1v1h-1zM20 0h1v1h-1zM23 0h1v1h-1zM25 0h2v1h-2zM3 1h1v1h-1zM23 1h1v1h-1zM26 1h2v1h-2zM10 2h1v1h-1zM53 2h1v1h-1zM1 3h1v1h-1zM76 3h1v1h-1zM56 4h1v1h-1zM36 6h1v1h-1zM36 7h1v1h-1zM36 8h1v1h-1zM36 9h1v1h-1zM2 10h1v1h-1zM36 10h1v1h-1zM0 13h1v1h-1zM36 14h1v1h-1zM36 17h1v1h-1zM36 18h1v1h-1zM0 20h1v1h-1zM52 20h2v1h-2zM49 22h2v1h-2zM52 22h2v1h-2zM0 23h2v1h-2zM36 23h1v1h-1zM49 23h2v1h-2zM53 23h1v1h-1zM36 24h1v1h-1zM0 25h1v1h-1zM36 25h1v1h-1zM0 26h2v1h-2zM36 26h1v1h-1zM49 26h2v1h-2zM52 26h2v1h-2zM56 26h1v1h-1zM1 27h1v1h-1zM36 27h1v1h-1zM49 27h2v1h-2zM52 27h2v1h-2zM56 27h1v1h-1zM36 28h1v1h-1zM49 28h2v1h-2zM52 28h2v1h-2zM56 28h1v1h-1zM36 29h1v1h-1zM52 29h1v1h-1zM56 29h1v1h-1zM36 30h1v1h-1zM52 30h1v1h-1zM56 30h1v1h-1zM49 31h2v1h-2zM52 31h2v1h-2zM49 32h2v1h-2zM52 32h2v1h-2zM49 34h2v1h-2zM52 34h2v1h-2zM49 35h2v1h-2zM52 35h2v1h-2zM6 36h5v1h-5zM14 36h1v1h-1zM17 36h2v1h-2zM23 36h8v1h-8zM50 41h1v1h-1zM52 41h1v1h-1zM50 44h1v1h-1zM52 44h2v1h-2zM22 49h2v1h-2zM26 49h3v1h-3zM31 49h2v1h-2zM34 49h2v1h-2zM22 50h2v1h-2zM26 50h3v1h-3zM31 50h2v1h-2zM34 50h2v1h-2zM41 50h1v1h-1zM44 50h1v1h-1zM20 52h1v1h-1zM22 52h1v1h-1zM26 52h7v1h-7zM34 52h2v1h-2zM41 52h1v1h-1zM44 52h1v1h-1zM2 53h1v1h-1zM20 53h1v1h-1zM22 53h2v1h-2zM26 53h3v1h-3zM31 53h2v1h-2zM34 53h2v1h-2zM44 53h1v1h-1zM4 56h1v1h-1zM26 56h5v1h-5zM3 76h1v1h-1z"/><path fill="rgb(171,0,0)" d="M22 2h1v1h-1zM26 2h1v1h-1zM29 2h2v1h-2zM22 3h1v1h-1zM58 4h1v1h-1zM14 5h1v1h-1zM8 6h2v1h-2zM15 6h1v1h-1zM18 6h1v1h-1zM59 6h1v1h-1zM62 6h1v1h-1zM69 6h1v1h-1zM71 6h1v1h-1zM6 8h1v1h-1zM59 8h1v1h-1zM62 8h1v1h-1zM69 8h1v1h-1zM71 8h1v1h-1zM6 9h1v1h-1zM35 12h1v1h-1zM5 14h1v1h-1zM17 14h1v1h-1zM60 14h1v1h-1zM63 14h1v1h-1zM6 15h1v1h-1zM18 15h1v1h-1zM59 15h1v1h-1zM62 15h1v1h-1zM69 15h1v1h-1zM71 15h1v1h-1zM14 17h1v1h-1zM6 18h1v1h-1zM15 18h1v1h-1zM59 18h1v1h-1zM62 18h1v1h-1zM69 18h1v1h-1zM71 18h1v1h-1zM21 20h1v1h-1zM34 20h1v1h-1zM20 21h1v1h-1zM2 22h2v1h-2zM24 23h1v1h-1zM28 23h1v1h-1zM30 23h1v1h-1zM23 24h1v1h-1zM28 24h1v1h-1zM30 24h1v1h-1zM27 25h1v1h-1zM2 26h1v1h-1zM27 26h1v1h-1zM29 26h2v1h-2zM25 27h2v1h-2zM23 28h2v1h-2zM2 29h1v1h-1zM26 29h1v1h-1zM30 29h1v1h-1zM2 30h1v1h-1zM23 30h2v1h-2zM26 30h1v1h-1zM29 30h1v1h-1zM20 34h1v1h-1zM35 34h1v1h-1zM12 35h1v1h-1zM34 35h1v1h-1zM38 37h1v1h-1zM37 38h1v1h-1zM66 39h1v1h-1zM48 47h1v1h-1zM51 47h1v1h-1zM75 47h1v1h-1zM47 48h1v1h-1zM52 49h1v1h-1zM52 50h1v1h-1zM47 51h1v1h-1zM49 52h2v1h-2zM57 56h1v1h-1zM56 57h1v1h-1zM4 58h1v1h-1zM6 59h1v1h-1zM8 59h1v1h-1zM15 59h1v1h-1zM18 59h1v1h-1zM62 59h1v1h-1zM71 59h1v1h-1zM14 60h1v1h-1zM6 62h1v1h-1zM8 62h1v1h-1zM15 62h1v1h-1zM18 62h1v1h-1zM59 62h1v1h-1zM68 62h1v1h-1zM71 62h1v1h-1zM14 63h1v1h-1zM72 63h1v1h-1zM66 65h1v1h-1zM39 66h1v1h-1zM65 66h1v1h-1zM62 68h1v1h-1zM71 68h1v1h-1zM6 69h1v1h-1zM8 69h1v1h-1zM15 69h1v1h-1zM18 69h1v1h-1zM71 69h1v1h-1zM77 69h1v1h-1zM6 71h1v1h-1zM8 71h1v1h-1zM15 71h1v1h-1zM18 71h1v1h-1zM59 71h1v1h-1zM62 71h1v1h-1zM68 71h2v1h-2zM77 71h1v1h-1zM63 72h1v1h-1zM47 75h1v1h-1zM69 77h1v1h-1zM71 77h1v1h-1z"/><path fill="rgb(0,157,255)" d="M49 11h2v1h-2zM53 11h1v1h-1zM49 12h2v1h-2zM53 12h1v1h-1zM52 21h2v1h-2zM31 23h3v1h-3zM35 23h1v1h-1zM39 23h8v1h-8zM31 24h3v1h-3zM35 24h1v1h-1zM39 24h8v1h-8zM49 24h2v1h-2zM53 24h1v1h-1zM31 25h3v1h-3zM35 25h1v1h-1zM39 25h8v1h-8zM49 25h2v1h-2zM53 25h1v1h-1zM31 26h3v1h-3zM35 26h1v1h-1zM39 26h10v1h-10zM51 26h1v1h-1zM54 26h2v1h-2zM31 27h3v1h-3zM35 27h1v1h-1zM39 27h10v1h-10zM51 27h1v1h-1zM54 27h2v1h-2zM31 28h3v1h-3zM35 28h1v1h-1zM39 28h8v1h-8zM31 29h3v1h-3zM35 29h1v1h-1zM39 29h8v1h-8zM49 29h2v1h-2zM53 29h1v1h-1zM31 30h3v1h-3zM35 30h1v1h-1zM39 30h8v1h-8zM49 30h2v1h-2zM53 30h1v1h-1zM23 31h8v1h-8zM47 31h2v1h-2zM51 31h1v1h-1zM54 31h2v1h-2zM23 32h8v1h-8zM23 33h8v1h-8zM49 33h2v1h-2zM52 33h2v1h-2zM47 34h2v1h-2zM51 34h1v1h-1zM54 34h2v1h-2zM23 35h8v1h-8zM49 36h2v1h-2zM52 36h2v1h-2zM49 37h2v1h-2zM52 37h2v1h-2zM49 38h2v1h-2zM52 38h1v1h-1zM23 39h8v1h-8zM23 40h8v1h-8zM23 41h8v1h-8zM23 42h8v1h-8zM50 42h1v1h-1zM23 43h8v1h-8zM50 43h1v1h-1zM23 44h8v1h-8zM23 45h8v1h-8zM50 45h1v1h-1zM52 45h2v1h-2zM23 46h8v1h-8zM50 46h1v1h-1zM52 46h2v1h-2zM26 47h2v1h-2zM31 47h1v1h-1zM34 47h1v1h-1zM26 48h2v1h-2zM31 48h1v1h-1zM34 48h1v1h-1zM11 49h2v1h-2zM24 49h2v1h-2zM29 49h2v1h-2zM33 49h1v1h-1zM36 49h3v1h-3zM11 50h2v1h-2zM24 50h2v1h-2zM29 50h2v1h-2zM33 50h1v1h-1zM36 50h3v1h-3zM42 50h2v1h-2zM45 50h2v1h-2zM26 51h2v1h-2zM31 51h1v1h-1zM34 51h1v1h-1zM21 52h1v1h-1zM33 52h1v1h-1zM36 52h3v1h-3zM45 52h2v1h-2zM11 53h2v1h-2zM21 53h1v1h-1zM24 53h2v1h-2zM29 53h2v1h-2zM33 53h1v1h-1zM36 53h2v1h-2zM45 53h2v1h-2zM26 54h2v1h-2zM31 54h1v1h-1zM34 54h1v1h-1zM26 55h2v1h-2zM31 55h1v1h-1zM34 55h1v1h-1z"/><path fill="rgb(0,135,255)" d="M47 20h2v1h-2zM51 20h1v1h-1zM54 20h2v1h-2zM47 22h2v1h-2zM51 22h1v1h-1zM54 22h2v1h-2zM47 23h2v1h-2zM51 23h1v1h-1zM54 23h2v1h-2zM47 28h2v1h-2zM51 28h1v1h-1zM54 28h2v1h-2zM47 32h2v1h-2zM51 32h1v1h-1zM54 32h2v1h-2zM47 35h2v1h-2zM51 35h1v1h-1zM54 35h2v1h-2zM47 40h2v1h-2zM51 40h1v1h-1zM54 40h2v1h-2zM47 41h2v1h-2zM51 41h1v1h-1zM54 41h2v1h-2zM47 44h2v1h-2zM51 44h1v1h-1zM54 44h2v1h-2zM20 47h1v1h-1zM22 47h2v1h-2zM28 47h1v1h-1zM32 47h1v1h-1zM35 47h1v1h-1zM40 47h2v1h-2zM44 47h1v1h-1zM20 48h1v1h-1zM22 48h2v1h-2zM28 48h1v1h-1zM32 48h1v1h-1zM35 48h1v1h-1zM40 48h2v1h-2zM44 48h1v1h-1zM20 51h1v1h-1zM22 51h2v1h-2zM28 51h1v1h-1zM32 51h1v1h-1zM35 51h1v1h-1zM40 51h2v1h-2zM44 51h1v1h-1zM20 54h1v1h-1zM22 54h2v1h-2zM28 54h1v1h-1zM32 54h1v1h-1zM35 54h1v1h-1zM40 54h2v1h-2zM44 54h1v1h-1zM20 55h1v1h-1zM22 55h2v1h-2zM28 55h1v1h-1zM32 55h1v1h-1zM35 55h1v1h-1zM40 55h2v1h-2zM44 55h1v1h-1z"/></g></g><g filter="url(#hblur)"><g transform="translate(974.0,629.9) scale(4.62308,4.60513)" shape-rendering="crispEdges"><rect x="0" y="0" width="78" height="78" fill="rgb(0, 0, 237)"/><path fill="rgb(90,0,0)" d="M0 0h1v1h-1zM1 1h1v1h-1zM2 2h1v1h-1zM3 3h1v1h-1zM4 4h1v1h-1zM5 5h1v1h-1zM6 6h1v1h-1zM7 7h1v1h-1zM8 8h1v1h-1zM9 9h1v1h-1zM10 10h1v1h-1zM11 11h1v1h-1zM12 12h1v1h-1zM13 13h1v1h-1zM14 14h1v1h-1zM15 15h1v1h-1zM16 16h1v1h-1zM17 17h1v1h-1zM18 18h1v1h-1zM19 19h1v1h-1zM20 20h1v1h-1zM21 21h1v1h-1zM22 22h1v1h-1zM23 23h1v1h-1zM24 24h1v1h-1zM25 25h1v1h-1zM26 26h1v1h-1zM27 27h1v1h-1zM28 28h1v1h-1zM29 29h1v1h-1zM30 30h1v1h-1zM31 31h1v1h-1zM32 32h1v1h-1zM33 33h1v1h-1zM34 34h1v1h-1zM35 35h1v1h-1zM36 36h1v1h-1zM37 37h1v1h-1zM38 38h1v1h-1zM39 39h1v1h-1zM40 40h1v1h-1zM41 41h1v1h-1zM42 42h1v1h-1zM43 43h1v1h-1zM44 44h1v1h-1zM45 45h1v1h-1zM46 46h1v1h-1zM47 47h1v1h-1zM48 48h1v1h-1zM49 49h1v1h-1zM50 50h1v1h-1zM51 51h1v1h-1zM52 52h1v1h-1zM53 53h1v1h-1zM54 54h1v1h-1zM55 55h1v1h-1zM56 56h1v1h-1zM57 57h1v1h-1zM58 58h1v1h-1zM59 59h1v1h-1zM60 60h1v1h-1zM61 61h1v1h-1zM62 62h1v1h-1zM63 63h1v1h-1zM64 64h1v1h-1zM65 65h1v1h-1zM66 66h1v1h-1zM67 67h1v1h-1zM68 68h1v1h-1zM69 69h1v1h-1zM70 70h1v1h-1zM71 71h1v1h-1zM72 72h1v1h-1zM73 73h1v1h-1zM74 74h1v1h-1zM75 75h1v1h-1zM76 76h1v1h-1zM77 77h1v1h-1z"/><path fill="rgb(33,255,222)" d="M3 0h1v1h-1zM22 0h1v1h-1zM59 0h1v1h-1zM62 0h1v1h-1zM67 0h1v1h-1zM5 1h1v1h-1zM11 1h2v1h-2zM16 1h1v1h-1zM19 1h3v1h-3zM37 1h2v1h-2zM41 1h2v1h-2zM44 1h3v1h-3zM57 1h1v1h-1zM60 1h1v1h-1zM72 1h1v1h-1zM76 1h1v1h-1zM11 2h1v1h-1zM13 2h1v1h-1zM32 2h1v1h-1zM0 3h1v1h-1zM11 3h1v1h-1zM13 3h1v1h-1zM32 3h1v1h-1zM38 3h1v1h-1zM5 4h1v1h-1zM14 4h1v1h-1zM32 4h2v1h-2zM41 4h1v1h-1zM44 4h1v1h-1zM62 4h1v1h-1zM76 4h1v1h-1zM1 5h1v1h-1zM4 5h1v1h-1zM10 5h1v1h-1zM31 5h2v1h-2zM45 5h1v1h-1zM57 5h1v1h-1zM67 5h1v1h-1zM32 6h1v1h-1zM45 6h1v1h-1zM77 6h1v1h-1zM8 7h2v1h-2zM16 7h1v1h-1zM32 7h1v1h-1zM45 7h1v1h-1zM54 7h1v1h-1zM59 7h2v1h-2zM68 7h2v1h-2zM72 7h1v1h-1zM7 8h1v1h-1zM32 8h1v1h-1zM45 8h1v1h-1zM54 8h1v1h-1zM7 9h1v1h-1zM32 9h1v1h-1zM45 9h1v1h-1zM54 9h1v1h-1zM5 10h1v1h-1zM14 10h1v1h-1zM32 10h1v1h-1zM45 10h1v1h-1zM62 10h1v1h-1zM72 10h1v1h-1zM77 10h1v1h-1zM1 11h3v1h-3zM22 11h3v1h-3zM31 11h2v1h-2zM40 11h1v1h-1zM42 11h1v1h-1zM56 11h1v1h-1zM65 11h1v1h-1zM1 12h1v1h-1zM27 12h1v1h-1zM31 12h2v1h-2zM40 12h3v1h-3zM56 12h1v1h-1zM65 12h1v1h-1zM2 13h2v1h-2zM26 13h1v1h-1zM28 13h3v1h-3zM34 13h1v1h-1zM56 13h1v1h-1zM65 13h1v1h-1zM4 14h1v1h-1zM10 14h1v1h-1zM19 14h1v1h-1zM31 14h2v1h-2zM45 14h1v1h-1zM57 14h1v1h-1zM67 14h1v1h-1zM17 15h1v1h-1zM32 15h1v1h-1zM45 15h1v1h-1zM70 15h1v1h-1zM77 15h1v1h-1zM1 16h1v1h-1zM7 16h1v1h-1zM32 16h1v1h-1zM36 16h1v1h-1zM45 16h2v1h-2zM57 16h1v1h-1zM67 16h1v1h-1zM70 16h1v1h-1zM73 16h1v1h-1zM76 16h1v1h-1zM15 17h1v1h-1zM19 17h1v1h-1zM32 17h1v1h-1zM45 17h1v1h-1zM58 17h1v1h-1zM67 17h1v1h-1zM76 17h1v1h-1zM32 18h1v1h-1zM45 18h1v1h-1zM76 18h1v1h-1zM1 19h1v1h-1zM14 19h1v1h-1zM17 19h1v1h-1zM32 19h1v1h-1zM41 19h1v1h-1zM45 19h1v1h-1zM59 19h1v1h-1zM62 19h1v1h-1zM70 19h1v1h-1zM76 19h1v1h-1zM1 20h1v1h-1zM31 20h2v1h-2zM36 20h1v1h-1zM40 20h2v1h-2zM43 20h3v1h-3zM56 20h1v1h-1zM65 20h1v1h-1zM1 21h1v1h-1zM22 21h4v1h-4zM31 21h2v1h-2zM36 21h1v1h-1zM0 22h1v1h-1zM11 22h1v1h-1zM21 22h1v1h-1zM25 22h2v1h-2zM29 22h2v1h-2zM32 22h1v1h-1zM37 22h1v1h-1zM11 23h1v1h-1zM21 23h1v1h-1zM32 23h1v1h-1zM37 23h1v1h-1zM11 24h1v1h-1zM21 24h1v1h-1zM32 24h1v1h-1zM37 24h1v1h-1zM21 25h2v1h-2zM37 25h1v1h-1zM13 26h1v1h-1zM22 26h1v1h-1zM37 26h1v1h-1zM12 27h1v1h-1zM37 27h2v1h-2zM13 28h1v1h-1zM37 28h2v1h-2zM13 29h1v1h-1zM22 29h1v1h-1zM13 30h1v1h-1zM22 30h1v1h-1zM5 31h1v1h-1zM11 31h2v1h-2zM14 31h1v1h-1zM20 31h2v1h-2zM34 31h1v1h-1zM36 31h2v1h-2zM40 31h1v1h-1zM43 31h2v1h-2zM62 31h1v1h-1zM76 31h1v1h-1zM2 32h11v1h-11zM14 32h11v1h-11zM34 32h4v1h-4zM40 32h1v1h-1zM43 32h1v1h-1zM45 32h1v1h-1zM58 32h5v1h-5zM72 32h1v1h-1zM76 32h1v1h-1zM4 33h1v1h-1zM36 33h2v1h-2zM41 33h1v1h-1zM45 33h1v1h-1zM58 33h1v1h-1zM76 33h1v1h-1zM13 34h1v1h-1zM31 34h2v1h-2zM36 34h1v1h-1zM40 34h1v1h-1zM43 34h1v1h-1zM65 34h1v1h-1zM32 35h1v1h-1zM36 35h1v1h-1zM40 35h2v1h-2zM43 35h1v1h-1zM65 35h1v1h-1zM76 35h1v1h-1zM16 36h1v1h-1zM20 36h2v1h-2zM31 36h5v1h-5zM41 36h2v1h-2zM76 36h1v1h-1zM1 37h1v1h-1zM22 37h7v1h-7zM31 37h3v1h-3zM40 37h4v1h-4zM56 37h1v1h-1zM65 37h1v1h-1zM1 38h1v1h-1zM3 38h1v1h-1zM27 38h2v1h-2zM40 38h2v1h-2zM49 39h2v1h-2zM52 39h3v1h-3zM76 39h1v1h-1zM11 40h2v1h-2zM20 40h1v1h-1zM31 40h2v1h-2zM34 40h2v1h-2zM37 40h2v1h-2zM49 40h2v1h-2zM64 40h1v1h-1zM76 40h1v1h-1zM1 41h1v1h-1zM4 41h1v1h-1zM12 41h1v1h-1zM19 41h2v1h-2zM33 41h1v1h-1zM35 41h4v1h-4zM45 41h1v1h-1zM56 41h2v1h-2zM1 42h1v1h-1zM11 42h2v1h-2zM36 42h2v1h-2zM45 42h1v1h-1zM64 42h1v1h-1zM73 42h1v1h-1zM20 43h1v1h-1zM31 43h2v1h-2zM34 43h2v1h-2zM37 43h1v1h-1zM49 43h1v1h-1zM64 43h1v1h-1zM73 43h1v1h-1zM76 43h1v1h-1zM1 44h1v1h-1zM4 44h1v1h-1zM20 44h1v1h-1zM31 44h1v1h-1zM57 44h1v1h-1zM65 44h1v1h-1zM1 45h1v1h-1zM5 45h6v1h-6zM14 45h7v1h-7zM32 45h2v1h-2zM41 45h2v1h-2zM54 45h1v1h-1zM57 45h2v1h-2zM61 45h2v1h-2zM65 45h1v1h-1zM67 45h1v1h-1zM70 45h2v1h-2zM74 45h1v1h-1zM77 45h1v1h-1zM1 46h1v1h-1zM16 46h1v1h-1zM62 46h1v1h-1zM72 46h1v1h-1zM64 47h1v1h-1zM54 48h1v1h-1zM64 48h1v1h-1zM39 49h2v1h-2zM43 49h1v1h-1zM51 49h1v1h-1zM54 49h2v1h-2zM74 49h1v1h-1zM39 50h2v1h-2zM54 50h1v1h-1zM65 50h1v1h-1zM74 50h2v1h-2zM49 51h1v1h-1zM64 51h1v1h-1zM39 52h1v1h-1zM55 52h1v1h-1zM65 52h1v1h-1zM39 53h1v1h-1zM55 53h1v1h-1zM7 54h3v1h-3zM39 54h1v1h-1zM45 54h1v1h-1zM48 54h3v1h-3zM55 54h1v1h-1zM49 55h1v1h-1zM52 55h3v1h-3zM64 55h1v1h-1zM67 55h2v1h-2zM75 55h1v1h-1zM77 55h1v1h-1zM11 56h3v1h-3zM20 56h1v1h-1zM37 56h1v1h-1zM41 56h1v1h-1zM64 56h1v1h-1zM73 56h1v1h-1zM76 56h1v1h-1zM1 57h1v1h-1zM5 57h1v1h-1zM14 57h1v1h-1zM16 57h1v1h-1zM41 57h1v1h-1zM44 57h2v1h-2zM76 57h1v1h-1zM17 58h1v1h-1zM32 58h2v1h-2zM45 58h1v1h-1zM62 58h1v1h-1zM72 58h1v1h-1zM76 58h1v1h-1zM0 59h1v1h-1zM7 59h1v1h-1zM19 59h1v1h-1zM32 59h1v1h-1zM60 59h1v1h-1zM70 59h1v1h-1zM1 60h1v1h-1zM7 60h1v1h-1zM32 60h1v1h-1zM59 60h1v1h-1zM73 60h1v1h-1zM76 60h1v1h-1zM32 61h1v1h-1zM45 61h1v1h-1zM71 61h1v1h-1zM76 61h1v1h-1zM0 62h1v1h-1zM4 62h1v1h-1zM10 62h1v1h-1zM19 62h1v1h-1zM31 62h2v1h-2zM45 62h2v1h-2zM58 62h1v1h-1zM71 62h1v1h-1zM76 63h1v1h-1zM40 64h1v1h-1zM42 64h2v1h-2zM47 64h2v1h-2zM51 64h1v1h-1zM55 64h2v1h-2zM75 64h1v1h-1zM11 65h3v1h-3zM20 65h1v1h-1zM34 65h2v1h-2zM37 65h1v1h-1zM44 65h2v1h-2zM50 65h1v1h-1zM52 65h1v1h-1zM76 65h1v1h-1zM76 66h1v1h-1zM0 67h1v1h-1zM5 67h1v1h-1zM14 67h1v1h-1zM16 67h2v1h-2zM45 67h1v1h-1zM55 67h1v1h-1zM77 67h1v1h-1zM7 68h1v1h-1zM55 68h1v1h-1zM7 69h1v1h-1zM15 70h2v1h-2zM19 70h1v1h-1zM45 70h1v1h-1zM59 70h1v1h-1zM71 70h1v1h-1zM45 71h1v1h-1zM61 71h2v1h-2zM70 71h1v1h-1zM1 72h1v1h-1zM7 72h1v1h-1zM10 72h1v1h-1zM32 72h1v1h-1zM46 72h1v1h-1zM58 72h1v1h-1zM73 72h1v1h-1zM75 72h1v1h-1zM16 73h1v1h-1zM42 73h2v1h-2zM56 73h1v1h-1zM60 73h1v1h-1zM72 73h1v1h-1zM45 74h1v1h-1zM49 74h2v1h-2zM77 74h1v1h-1zM50 75h1v1h-1zM55 75h1v1h-1zM64 75h1v1h-1zM72 75h1v1h-1zM1 76h1v1h-1zM4 76h1v1h-1zM16 76h4v1h-4zM31 76h3v1h-3zM35 76h2v1h-2zM39 76h2v1h-2zM43 76h1v1h-1zM56 76h3v1h-3zM60 76h2v1h-2zM63 76h1v1h-1zM65 76h2v1h-2zM6 77h1v1h-1zM10 77h1v1h-1zM15 77h1v1h-1zM45 77h1v1h-1zM55 77h1v1h-1zM67 77h1v1h-1zM74 77h1v1h-1z"/><path fill="rgb(171,0,0)" d="M6 0h1v1h-1zM9 0h1v1h-1zM26 2h1v1h-1zM30 2h2v1h-2zM22 3h1v1h-1zM19 4h1v1h-1zM57 4h1v1h-1zM6 5h1v1h-1zM14 5h1v1h-1zM16 5h1v1h-1zM0 6h1v1h-1zM5 6h1v1h-1zM8 6h2v1h-2zM15 6h2v1h-2zM18 6h1v1h-1zM6 8h1v1h-1zM18 8h1v1h-1zM61 8h1v1h-1zM69 8h1v1h-1zM0 9h1v1h-1zM6 9h1v1h-1zM18 9h1v1h-1zM12 11h1v1h-1zM21 11h1v1h-1zM37 11h2v1h-2zM11 12h1v1h-1zM21 12h1v1h-1zM34 12h1v1h-1zM37 12h2v1h-2zM37 13h1v1h-1zM5 14h1v1h-1zM16 14h2v1h-2zM59 14h1v1h-1zM6 15h1v1h-1zM58 15h1v1h-1zM62 15h1v1h-1zM5 16h2v1h-2zM14 16h1v1h-1zM19 16h1v1h-1zM58 16h1v1h-1zM71 16h1v1h-1zM14 17h1v1h-1zM59 17h1v1h-1zM71 17h1v1h-1zM6 18h1v1h-1zM8 18h2v1h-2zM57 18h1v1h-1zM4 19h1v1h-1zM16 19h1v1h-1zM57 19h1v1h-1zM34 20h1v1h-1zM11 21h2v1h-2zM3 22h1v1h-1zM28 23h1v1h-1zM27 24h1v1h-1zM27 25h1v1h-1zM2 26h1v1h-1zM29 26h1v1h-1zM24 27h2v1h-2zM28 27h1v1h-1zM23 28h1v1h-1zM27 28h1v1h-1zM26 29h1v1h-1zM30 29h1v1h-1zM2 30h1v1h-1zM29 30h1v1h-1zM2 31h1v1h-1zM35 33h1v1h-1zM12 34h1v1h-1zM20 34h1v1h-1zM35 34h1v1h-1zM37 34h2v1h-2zM33 35h2v1h-2zM37 35h1v1h-1zM73 36h1v1h-1zM11 37h3v1h-3zM34 37h2v1h-2zM38 37h1v1h-1zM11 38h2v1h-2zM34 38h1v1h-1zM37 38h1v1h-1zM40 39h1v1h-1zM65 39h1v1h-1zM39 40h1v1h-1zM65 40h1v1h-1zM43 41h1v1h-1zM44 42h1v1h-1zM41 43h1v1h-1zM56 43h1v1h-1zM42 44h1v1h-1zM57 46h1v1h-1zM48 47h1v1h-1zM47 48h1v1h-1zM52 49h1v1h-1zM64 49h1v1h-1zM52 50h1v1h-1zM49 52h2v1h-2zM64 54h1v1h-1zM74 55h1v1h-1zM43 56h1v1h-1zM65 56h1v1h-1zM4 57h1v1h-1zM18 57h2v1h-2zM46 57h1v1h-1zM15 58h2v1h-2zM14 59h1v1h-1zM17 59h1v1h-1zM70 60h1v1h-1zM8 61h1v1h-1zM15 62h1v1h-1zM49 64h1v1h-1zM54 64h1v1h-1zM39 65h2v1h-2zM56 65h1v1h-1zM71 68h1v1h-1zM8 69h1v1h-1zM71 69h1v1h-1zM60 70h1v1h-1zM16 71h2v1h-2zM68 71h2v1h-2zM36 73h1v1h-1zM55 74h1v1h-1z"/><path fill="rgb(142,255,113)" d="M7 0h1v1h-1zM68 0h1v1h-1zM71 0h1v1h-1zM77 0h1v1h-1zM36 1h1v1h-1zM25 3h1v1h-1zM45 4h1v1h-1zM67 6h1v1h-1zM71 6h1v1h-1zM0 7h1v1h-1zM71 7h1v1h-1zM77 7h1v1h-1zM67 8h1v1h-1zM77 8h1v1h-1zM67 9h1v1h-1zM77 9h1v1h-1zM59 10h1v1h-1zM67 10h5v1h-5zM25 11h1v1h-1zM31 13h1v1h-1zM67 15h1v1h-1zM31 16h1v1h-1zM61 17h1v1h-1zM70 18h1v1h-1zM36 19h1v1h-1zM42 20h1v1h-1zM24 22h1v1h-1zM27 22h2v1h-2zM22 24h1v1h-1zM3 25h1v1h-1zM11 25h1v1h-1zM22 27h1v1h-1zM22 28h1v1h-1zM13 31h1v1h-1zM16 31h1v1h-1zM60 31h1v1h-1zM73 31h1v1h-1zM44 32h1v1h-1zM43 33h2v1h-2zM41 34h2v1h-2zM56 34h1v1h-1zM42 35h1v1h-1zM56 35h1v1h-1zM1 36h1v1h-1zM19 36h1v1h-1zM43 36h2v1h-2zM42 39h1v1h-1zM42 40h1v1h-1zM34 41h1v1h-1zM20 42h1v1h-1zM34 42h2v1h-2zM39 42h2v1h-2zM33 43h1v1h-1zM36 43h1v1h-1zM45 43h1v1h-1zM32 44h2v1h-2zM36 44h1v1h-1zM4 45h1v1h-1zM43 45h1v1h-1zM59 45h1v1h-1zM54 47h1v1h-1zM50 48h1v1h-1zM74 48h1v1h-1zM65 49h1v1h-1zM48 50h1v1h-1zM74 52h2v1h-2zM47 54h1v1h-1zM34 56h2v1h-2zM64 57h1v1h-1zM10 59h1v1h-1zM45 59h1v1h-1zM31 60h1v1h-1zM17 61h1v1h-1zM67 63h1v1h-1zM57 64h1v1h-1zM49 65h1v1h-1zM6 67h1v1h-1zM8 67h3v1h-3zM15 67h1v1h-1zM63 67h1v1h-1zM0 68h1v1h-1zM10 68h1v1h-1zM10 69h1v1h-1zM10 70h1v1h-1zM18 70h1v1h-1zM0 71h1v1h-1zM6 71h2v1h-2zM10 71h1v1h-1zM31 73h1v1h-1zM48 74h1v1h-1zM52 74h1v1h-1zM52 75h1v1h-1zM0 77h1v1h-1zM7 77h3v1h-3z"/><path fill="rgb(255,120,0)" d="M8 0h1v1h-1zM10 0h1v1h-1zM31 1h2v1h-2zM3 2h1v1h-1zM22 2h1v1h-1zM24 2h1v1h-1zM29 2h1v1h-1zM2 3h1v1h-1zM29 3h1v1h-1zM17 4h1v1h-1zM35 4h1v1h-1zM46 4h1v1h-1zM73 4h1v1h-1zM7 5h1v1h-1zM60 5h1v1h-1zM10 6h1v1h-1zM69 6h1v1h-1zM5 7h1v1h-1zM10 7h1v1h-1zM58 7h1v1h-1zM0 8h1v1h-1zM70 8h1v1h-1zM68 9h2v1h-2zM0 10h1v1h-1zM6 10h2v1h-2zM17 10h1v1h-1zM20 11h1v1h-1zM34 11h1v1h-1zM20 12h1v1h-1zM21 13h1v1h-1zM27 13h1v1h-1zM36 13h1v1h-1zM59 16h2v1h-2zM72 16h1v1h-1zM4 17h1v1h-1zM10 17h1v1h-1zM72 17h1v1h-1zM61 18h1v1h-1zM11 20h2v1h-2zM38 20h1v1h-1zM13 21h1v1h-1zM34 21h1v1h-1zM2 22h1v1h-1zM30 23h1v1h-1zM2 24h1v1h-1zM29 24h1v1h-1zM29 25h1v1h-1zM28 26h1v1h-1zM30 26h1v1h-1zM13 27h1v1h-1zM29 27h1v1h-1zM26 28h1v1h-1zM2 29h2v1h-2zM24 29h2v1h-2zM27 29h1v1h-1zM23 30h1v1h-1zM26 30h1v1h-1zM1 31h1v1h-1zM35 31h1v1h-1zM1 32h1v1h-1zM40 33h1v1h-1zM11 34h1v1h-1zM21 34h1v1h-1zM4 35h1v1h-1zM31 35h1v1h-1zM13 36h1v1h-1zM20 38h1v1h-1zM56 39h1v1h-1zM33 40h1v1h-1zM56 42h1v1h-1zM76 42h1v1h-1zM76 44h1v1h-1zM76 45h1v1h-1zM4 46h1v1h-1zM76 46h1v1h-1zM51 47h1v1h-1zM53 47h1v1h-1zM51 48h3v1h-3zM53 49h1v1h-1zM53 50h1v1h-1zM47 51h2v1h-2zM52 51h1v1h-1zM54 51h1v1h-1zM74 51h1v1h-1zM48 52h1v1h-1zM51 52h1v1h-1zM64 52h1v1h-1zM47 53h4v1h-4zM75 53h1v1h-1zM51 54h1v1h-1zM75 54h1v1h-1zM39 56h1v1h-1zM42 56h1v1h-1zM65 57h1v1h-1zM7 58h1v1h-1zM16 59h1v1h-1zM67 59h3v1h-3zM77 59h1v1h-1zM5 60h1v1h-1zM16 60h1v1h-1zM18 61h1v1h-1zM67 62h2v1h-2zM77 62h1v1h-1zM52 64h1v1h-1zM57 65h1v1h-1zM59 67h1v1h-1zM62 67h1v1h-1zM9 68h1v1h-1zM59 68h1v1h-1zM62 68h1v1h-1zM6 69h1v1h-1zM9 69h1v1h-1zM59 69h1v1h-1zM77 69h1v1h-1zM8 70h1v1h-1zM72 70h1v1h-1zM16 72h2v1h-2zM70 72h1v1h-1zM4 73h1v1h-1zM51 74h1v1h-1zM75 74h1v1h-1zM53 75h2v1h-2zM74 75h1v1h-1zM42 76h1v1h-1zM44 76h3v1h-3zM59 77h1v1h-1zM62 77h1v1h-1zM69 77h1v1h-1z"/><path fill="rgb(255,237,0)" d="M15 0h1v1h-1zM32 0h1v1h-1zM4 1h1v1h-1zM34 1h2v1h-2zM25 2h1v1h-1zM27 2h1v1h-1zM23 3h2v1h-2zM26 3h3v1h-3zM30 3h1v1h-1zM1 4h1v1h-1zM16 4h1v1h-1zM60 4h1v1h-1zM72 4h1v1h-1zM19 5h1v1h-1zM7 6h1v1h-1zM58 6h1v1h-1zM68 6h1v1h-1zM6 7h1v1h-1zM14 7h2v1h-2zM18 7h1v1h-1zM61 7h2v1h-2zM10 8h1v1h-1zM58 8h1v1h-1zM68 8h1v1h-1zM71 8h1v1h-1zM10 9h1v1h-1zM58 9h1v1h-1zM61 9h1v1h-1zM71 9h1v1h-1zM8 10h2v1h-2zM18 10h1v1h-1zM58 10h1v1h-1zM61 10h1v1h-1zM27 11h2v1h-2zM20 13h1v1h-1zM22 13h4v1h-4zM33 13h1v1h-1zM7 14h1v1h-1zM60 14h1v1h-1zM70 14h1v1h-1zM0 15h1v1h-1zM7 15h1v1h-1zM68 15h2v1h-2zM71 15h1v1h-1zM4 16h1v1h-1zM17 16h1v1h-1zM16 17h1v1h-1zM60 17h1v1h-1zM7 18h1v1h-1zM10 18h1v1h-1zM58 18h1v1h-1zM67 18h2v1h-2zM71 18h1v1h-1zM5 19h1v1h-1zM31 19h1v1h-1zM46 19h1v1h-1zM72 19h2v1h-2zM13 20h1v1h-1zM33 20h1v1h-1zM13 22h1v1h-1zM23 22h1v1h-1zM3 23h1v1h-1zM13 23h1v1h-1zM22 23h1v1h-1zM3 24h1v1h-1zM13 24h1v1h-1zM2 25h1v1h-1zM13 25h1v1h-1zM26 25h1v1h-1zM30 25h1v1h-1zM3 26h1v1h-1zM25 26h1v1h-1zM27 26h1v1h-1zM2 27h2v1h-2zM11 27h1v1h-1zM26 27h1v1h-1zM30 27h1v1h-1zM3 28h1v1h-1zM11 28h1v1h-1zM30 28h1v1h-1zM3 30h1v1h-1zM25 30h1v1h-1zM27 30h2v1h-2zM19 31h1v1h-1zM32 31h1v1h-1zM45 31h1v1h-1zM58 31h1v1h-1zM0 32h1v1h-1zM31 32h1v1h-1zM33 32h1v1h-1zM13 33h1v1h-1zM20 33h1v1h-1zM32 33h1v1h-1zM34 33h1v1h-1zM73 33h1v1h-1zM1 34h1v1h-1zM33 34h1v1h-1zM1 35h1v1h-1zM45 36h1v1h-1zM58 36h1v1h-1zM43 39h2v1h-2zM64 39h1v1h-1zM43 40h1v1h-1zM56 40h1v1h-1zM42 41h1v1h-1zM73 41h1v1h-1zM76 41h1v1h-1zM41 42h1v1h-1zM65 42h1v1h-1zM39 43h2v1h-2zM44 43h1v1h-1zM39 44h1v1h-1zM43 44h1v1h-1zM45 44h1v1h-1zM56 44h1v1h-1zM31 45h1v1h-1zM36 45h1v1h-1zM44 45h1v1h-1zM46 45h1v1h-1zM60 45h1v1h-1zM72 45h2v1h-2zM19 46h1v1h-1zM45 46h1v1h-1zM60 46h1v1h-1zM49 47h2v1h-2zM52 47h1v1h-1zM74 47h2v1h-2zM49 48h1v1h-1zM75 48h1v1h-1zM47 49h2v1h-2zM47 50h1v1h-1zM51 50h1v1h-1zM50 51h1v1h-1zM47 52h1v1h-1zM64 53h1v1h-1zM74 53h1v1h-1zM74 54h1v1h-1zM40 56h1v1h-1zM44 56h1v1h-1zM6 58h1v1h-1zM8 58h3v1h-3zM18 58h1v1h-1zM31 58h1v1h-1zM36 58h1v1h-1zM60 58h1v1h-1zM4 60h1v1h-1zM14 60h1v1h-1zM17 60h1v1h-1zM45 60h2v1h-2zM58 60h1v1h-1zM67 60h1v1h-1zM7 61h1v1h-1zM9 61h2v1h-2zM67 61h1v1h-1zM73 61h1v1h-1zM7 62h1v1h-1zM39 64h1v1h-1zM53 64h1v1h-1zM65 64h1v1h-1zM42 65h1v1h-1zM64 65h1v1h-1zM18 67h1v1h-1zM60 67h2v1h-2zM68 67h1v1h-1zM71 67h1v1h-1zM6 68h1v1h-1zM8 68h1v1h-1zM15 68h1v1h-1zM18 68h1v1h-1zM67 68h1v1h-1zM15 69h1v1h-1zM14 70h1v1h-1zM8 71h2v1h-2zM15 71h1v1h-1zM18 71h1v1h-1zM67 71h1v1h-1zM4 72h1v1h-1zM19 72h1v1h-1zM45 72h1v1h-1zM19 73h1v1h-1zM33 73h1v1h-1zM41 73h1v1h-1zM45 73h1v1h-1zM61 73h1v1h-1zM76 73h1v1h-1zM47 74h1v1h-1zM53 74h2v1h-2zM47 75h2v1h-2zM41 76h1v1h-1zM73 76h1v1h-1z"/><path fill="rgb(0,178,255)" d="M18 0h1v1h-1zM54 0h1v1h-1zM69 0h1v1h-1zM63 1h1v1h-1zM54 6h1v1h-1zM52 13h1v1h-1zM76 14h1v1h-1zM54 15h1v1h-1zM0 18h1v1h-1zM54 18h1v1h-1zM40 21h1v1h-1zM56 21h1v1h-1zM65 21h1v1h-1zM32 26h1v1h-1zM32 27h1v1h-1zM32 28h1v1h-1zM26 32h3v1h-3zM53 32h1v1h-1zM66 32h1v1h-1zM68 32h1v1h-1zM60 36h1v1h-1zM21 40h1v1h-1zM60 41h1v1h-1zM73 44h1v1h-1zM56 45h1v1h-1zM69 45h1v1h-1zM13 52h1v1h-1zM32 53h1v1h-1zM65 53h1v1h-1zM0 54h1v1h-1zM6 54h1v1h-1zM15 54h1v1h-1zM18 54h1v1h-1zM65 54h1v1h-1zM59 55h1v1h-1zM61 55h1v1h-1zM71 55h1v1h-1zM21 56h1v1h-1zM45 56h1v1h-1zM73 57h1v1h-1zM55 59h1v1h-1zM36 60h1v1h-1zM41 60h1v1h-1zM55 61h1v1h-1zM1 63h1v1h-1zM21 65h1v1h-1zM53 65h2v1h-2zM32 66h1v1h-1zM32 68h1v1h-1zM0 69h1v1h-1zM45 69h1v1h-1zM55 71h1v1h-1zM44 73h1v1h-1zM57 73h1v1h-1zM14 76h1v1h-1z"/><path fill="rgb(255,4,0)" d="M23 2h1v1h-1zM28 2h1v1h-1zM31 4h1v1h-1zM15 5h1v1h-1zM17 5h1v1h-1zM59 5h1v1h-1zM62 5h1v1h-1zM70 5h1v1h-1zM72 5h1v1h-1zM61 6h1v1h-1zM70 6h1v1h-1zM67 7h1v1h-1zM70 7h1v1h-1zM9 8h1v1h-1zM15 8h1v1h-1zM8 9h1v1h-1zM15 9h1v1h-1zM15 10h1v1h-1zM5 15h1v1h-1zM8 15h3v1h-3zM61 15h1v1h-1zM62 16h1v1h-1zM5 17h1v1h-1zM62 17h1v1h-1zM60 19h1v1h-1zM21 20h1v1h-1zM37 20h1v1h-1zM20 21h1v1h-1zM37 21h1v1h-1zM2 23h1v1h-1zM24 23h4v1h-4zM29 23h1v1h-1zM23 24h1v1h-1zM25 24h2v1h-2zM28 24h1v1h-1zM30 24h1v1h-1zM23 25h2v1h-2zM28 25h1v1h-1zM23 26h2v1h-2zM23 27h1v1h-1zM2 28h1v1h-1zM24 28h2v1h-2zM29 28h1v1h-1zM23 29h1v1h-1zM28 29h1v1h-1zM24 30h1v1h-1zM4 31h1v1h-1zM38 35h1v1h-1zM40 36h1v1h-1zM20 37h2v1h-2zM35 38h1v1h-1zM36 40h1v1h-1zM44 41h1v1h-1zM43 42h1v1h-1zM42 43h1v1h-1zM65 43h1v1h-1zM41 44h1v1h-1zM64 50h1v1h-1zM53 51h1v1h-1zM53 52h2v1h-2zM51 53h2v1h-2zM54 53h1v1h-1zM52 54h2v1h-2zM73 58h1v1h-1zM5 59h1v1h-1zM19 60h1v1h-1zM62 60h1v1h-1zM72 60h1v1h-1zM6 61h1v1h-1zM15 61h1v1h-1zM62 61h1v1h-1zM5 62h1v1h-1zM16 62h2v1h-2zM60 62h2v1h-2zM70 63h1v1h-1zM50 64h1v1h-1zM43 65h1v1h-1zM7 67h1v1h-1zM69 68h1v1h-1zM68 69h1v1h-1zM5 70h3v1h-3zM63 70h1v1h-1zM5 72h1v1h-1zM60 72h1v1h-1zM58 73h1v1h-1z"/></g></g><g shape-rendering="crispEdges"><rect x="1346.6" y="529.95" width="22.2" height="5.95" fill="rgb(0,0,135)"/><rect x="1346.6" y="524.29" width="22.2" height="5.95" fill="rgb(0,0,151)"/><rect x="1346.6" y="518.64" width="22.2" height="5.95" fill="rgb(0,0,167)"/><rect x="1346.6" y="512.99" width="22.2" height="5.95" fill="rgb(0,0,183)"/><rect x="1346.6" y="507.33" width="22.2" height="5.95" fill="rgb(0,0,199)"/><rect x="1346.6" y="501.68" width="22.2" height="5.95" fill="rgb(0,0,215)"/><rect x="1346.6" y="496.03" width="22.2" height="5.95" fill="rgb(0,0,231)"/><rect x="1346.6" y="490.38" width="22.2" height="5.95" fill="rgb(0,0,247)"/><rect x="1346.6" y="484.72" width="22.2" height="5.95" fill="rgb(0,8,255)"/><rect x="1346.6" y="479.07" width="22.2" height="5.95" fill="rgb(0,24,255)"/><rect x="1346.6" y="473.42" width="22.2" height="5.95" fill="rgb(0,40,255)"/><rect x="1346.6" y="467.76" width="22.2" height="5.95" fill="rgb(0,56,255)"/><rect x="1346.6" y="462.11" width="22.2" height="5.95" fill="rgb(0,72,255)"/><rect x="1346.6" y="456.46" width="22.2" height="5.95" fill="rgb(0,88,255)"/><rect x="1346.6" y="450.80" width="22.2" height="5.95" fill="rgb(0,104,255)"/><rect x="1346.6" y="445.15" width="22.2" height="5.95" fill="rgb(0,120,255)"/><rect x="1346.6" y="439.50" width="22.2" height="5.95" fill="rgb(0,135,255)"/><rect x="1346.6" y="433.84" width="22.2" height="5.95" fill="rgb(0,151,255)"/><rect x="1346.6" y="428.19" width="22.2" height="5.95" fill="rgb(0,167,255)"/><rect x="1346.6" y="422.54" width="22.2" height="5.95" fill="rgb(0,183,255)"/><rect x="1346.6" y="416.88" width="22.2" height="5.95" fill="rgb(0,199,255)"/><rect x="1346.6" y="411.23" width="22.2" height="5.95" fill="rgb(0,215,255)"/><rect x="1346.6" y="405.58" width="22.2" height="5.95" fill="rgb(0,231,255)"/><rect x="1346.6" y="399.93" width="22.2" height="5.95" fill="rgb(0,247,255)"/><rect x="1346.6" y="394.27" width="22.2" height="5.95" fill="rgb(8,255,247)"/><rect x="1346.6" y="388.62" width="22.2" height="5.95" fill="rgb(24,255,231)"/><rect x="1346.6" y="382.97" width="22.2" height="5.95" fill="rgb(40,255,215)"/><rect x="1346.6" y="377.31" width="22.2" height="5.95" fill="rgb(56,255,199)"/><rect x="1346.6" y="371.66" width="22.2" height="5.95" fill="rgb(72,255,183)"/><rect x="1346.6" y="366.01" width="22.2" height="5.95" fill="rgb(88,255,167)"/><rect x="1346.6" y="360.35" width="22.2" height="5.95" fill="rgb(104,255,151)"/><rect x="1346.6" y="354.70" width="22.2" height="5.95" fill="rgb(120,255,135)"/><rect x="1346.6" y="349.05" width="22.2" height="5.95" fill="rgb(135,255,120)"/><rect x="1346.6" y="343.39" width="22.2" height="5.95" fill="rgb(151,255,104)"/><rect x="1346.6" y="337.74" width="22.2" height="5.95" fill="rgb(167,255,88)"/><rect x="1346.6" y="332.09" width="22.2" height="5.95" fill="rgb(183,255,72)"/><rect x="1346.6" y="326.43" width="22.2" height="5.95" fill="rgb(199,255,56)"/><rect x="1346.6" y="320.78" width="22.2" height="5.95" fill="rgb(215,255,40)"/><rect x="1346.6" y="315.13" width="22.2" height="5.95" fill="rgb(231,255,24)"/><rect x="1346.6" y="309.48" width="22.2" height="5.95" fill="rgb(247,255,8)"/><rect x="1346.6" y="303.82" width="22.2" height="5.95" fill="rgb(255,247,0)"/><rect x="1346.6" y="298.17" width="22.2" height="5.95" fill="rgb(255,231,0)"/><rect x="1346.6" y="292.52" width="22.2" height="5.95" fill="rgb(255,215,0)"/><rect x="1346.6" y="286.86" width="22.2" height="5.95" fill="rgb(255,199,0)"/><rect x="1346.6" y="281.21" width="22.2" height="5.95" fill="rgb(255,183,0)"/><rect x="1346.6" y="275.56" width="22.2" height="5.95" fill="rgb(255,167,0)"/><rect x="1346.6" y="269.90" width="22.2" height="5.95" fill="rgb(255,151,0)"/><rect x="1346.6" y="264.25" width="22.2" height="5.95" fill="rgb(255,135,0)"/><rect x="1346.6" y="258.60" width="22.2" height="5.95" fill="rgb(255,120,0)"/><rect x="1346.6" y="252.94" width="22.2" height="5.95" fill="rgb(255,104,0)"/><rect x="1346.6" y="247.29" width="22.2" height="5.95" fill="rgb(255,88,0)"/><rect x="1346.6" y="241.64" width="22.2" height="5.95" fill="rgb(255,72,0)"/><rect x="1346.6" y="235.98" width="22.2" height="5.95" fill="rgb(255,56,0)"/><rect x="1346.6" y="230.33" width="22.2" height="5.95" fill="rgb(255,40,0)"/><rect x="1346.6" y="224.68" width="22.2" height="5.95" fill="rgb(255,24,0)"/><rect x="1346.6" y="219.03" width="22.2" height="5.95" fill="rgb(255,8,0)"/><rect x="1346.6" y="213.37" width="22.2" height="5.95" fill="rgb(247,0,0)"/><rect x="1346.6" y="207.72" width="22.2" height="5.95" fill="rgb(231,0,0)"/><rect x="1346.6" y="202.07" width="22.2" height="5.95" fill="rgb(215,0,0)"/><rect x="1346.6" y="196.41" width="22.2" height="5.95" fill="rgb(199,0,0)"/><rect x="1346.6" y="190.76" width="22.2" height="5.95" fill="rgb(183,0,0)"/><rect x="1346.6" y="185.11" width="22.2" height="5.95" fill="rgb(167,0,0)"/><rect x="1346.6" y="179.45" width="22.2" height="5.95" fill="rgb(151,0,0)"/><rect x="1346.6" y="173.80" width="22.2" height="5.95" fill="rgb(135,0,0)"/></g><g shape-rendering="crispEdges"><rect x="1346.7" y="983.45" width="22.1" height="5.95" fill="rgb(0,0,135)"/><rect x="1346.7" y="977.80" width="22.1" height="5.95" fill="rgb(0,0,151)"/><rect x="1346.7" y="972.15" width="22.1" height="5.95" fill="rgb(0,0,167)"/><rect x="1346.7" y="966.50" width="22.1" height="5.95" fill="rgb(0,0,183)"/><rect x="1346.7" y="960.85" width="22.1" height="5.95" fill="rgb(0,0,199)"/><rect x="1346.7" y="955.20" width="22.1" height="5.95" fill="rgb(0,0,215)"/><rect x="1346.7" y="949.55" width="22.1" height="5.95" fill="rgb(0,0,231)"/><rect x="1346.7" y="943.90" width="22.1" height="5.95" fill="rgb(0,0,247)"/><rect x="1346.7" y="938.25" width="22.1" height="5.95" fill="rgb(0,8,255)"/><rect x="1346.7" y="932.60" width="22.1" height="5.95" fill="rgb(0,24,255)"/><rect x="1346.7" y="926.95" width="22.1" height="5.95" fill="rgb(0,40,255)"/><rect x="1346.7" y="921.30" width="22.1" height="5.95" fill="rgb(0,56,255)"/><rect x="1346.7" y="915.65" width="22.1" height="5.95" fill="rgb(0,72,255)"/><rect x="1346.7" y="910.00" width="22.1" height="5.95" fill="rgb(0,88,255)"/><rect x="1346.7" y="904.35" width="22.1" height="5.95" fill="rgb(0,104,255)"/><rect x="1346.7" y="898.70" width="22.1" height="5.95" fill="rgb(0,120,255)"/><rect x="1346.7" y="893.05" width="22.1" height="5.95" fill="rgb(0,135,255)"/><rect x="1346.7" y="887.40" width="22.1" height="5.95" fill="rgb(0,151,255)"/><rect x="1346.7" y="881.75" width="22.1" height="5.95" fill="rgb(0,167,255)"/><rect x="1346.7" y="876.10" width="22.1" height="5.95" fill="rgb(0,183,255)"/><rect x="1346.7" y="870.45" width="22.1" height="5.95" fill="rgb(0,199,255)"/><rect x="1346.7" y="864.80" width="22.1" height="5.95" fill="rgb(0,215,255)"/><rect x="1346.7" y="859.15" width="22.1" height="5.95" fill="rgb(0,231,255)"/><rect x="1346.7" y="853.50" width="22.1" height="5.95" fill="rgb(0,247,255)"/><rect x="1346.7" y="847.85" width="22.1" height="5.95" fill="rgb(8,255,247)"/><rect x="1346.7" y="842.20" width="22.1" height="5.95" fill="rgb(24,255,231)"/><rect x="1346.7" y="836.55" width="22.1" height="5.95" fill="rgb(40,255,215)"/><rect x="1346.7" y="830.90" width="22.1" height="5.95" fill="rgb(56,255,199)"/><rect x="1346.7" y="825.25" width="22.1" height="5.95" fill="rgb(72,255,183)"/><rect x="1346.7" y="819.60" width="22.1" height="5.95" fill="rgb(88,255,167)"/><rect x="1346.7" y="813.95" width="22.1" height="5.95" fill="rgb(104,255,151)"/><rect x="1346.7" y="808.30" width="22.1" height="5.95" fill="rgb(120,255,135)"/><rect x="1346.7" y="802.65" width="22.1" height="5.95" fill="rgb(135,255,120)"/><rect x="1346.7" y="797.00" width="22.1" height="5.95" fill="rgb(151,255,104)"/><rect x="1346.7" y="791.35" width="22.1" height="5.95" fill="rgb(167,255,88)"/><rect x="1346.7" y="785.70" width="22.1" height="5.95" fill="rgb(183,255,72)"/><rect x="1346.7" y="780.05" width="22.1" height="5.95" fill="rgb(199,255,56)"/><rect x="1346.7" y="774.40" width="22.1" height="5.95" fill="rgb(215,255,40)"/><rect x="1346.7" y="768.75" width="22.1" height="5.95" fill="rgb(231,255,24)"/><rect x="1346.7" y="763.10" width="22.1" height="5.95" fill="rgb(247,255,8)"/><rect x="1346.7" y="757.45" width="22.1" height="5.95" fill="rgb(255,247,0)"/><rect x="1346.7" y="751.80" width="22.1" height="5.95" fill="rgb(255,231,0)"/><rect x="1346.7" y="746.15" width="22.1" height="5.95" fill="rgb(255,215,0)"/><rect x="1346.7" y="740.50" width="22.1" height="5.95" fill="rgb(255,199,0)"/><rect x="1346.7" y="734.85" width="22.1" height="5.95" fill="rgb(255,183,0)"/><rect x="1346.7" y="729.20" width="22.1" height="5.95" fill="rgb(255,167,0)"/><rect x="1346.7" y="723.55" width="22.1" height="5.95" fill="rgb(255,151,0)"/><rect x="1346.7" y="717.90" width="22.1" height="5.95" fill="rgb(255,135,0)"/><rect x="1346.7" y="712.25" width="22.1" height="5.95" fill="rgb(255,120,0)"/><rect x="1346.7" y="706.60" width="22.1" height="5.95" fill="rgb(255,104,0)"/><rect x="1346.7" y="700.95" width="22.1" height="5.95" fill="rgb(255,88,0)"/><rect x="1346.7" y="695.30" width="22.1" height="5.95" fill="rgb(255,72,0)"/><rect x="1346.7" y="689.65" width="22.1" height="5.95" fill="rgb(255,56,0)"/><rect x="1346.7" y="684.00" width="22.1" height="5.95" fill="rgb(255,40,0)"/><rect x="1346.7" y="678.35" width="22.1" height="5.95" fill="rgb(255,24,0)"/><rect x="1346.7" y="672.70" width="22.1" height="5.95" fill="rgb(255,8,0)"/><rect x="1346.7" y="667.05" width="22.1" height="5.95" fill="rgb(247,0,0)"/><rect x="1346.7" y="661.40" width="22.1" height="5.95" fill="rgb(231,0,0)"/><rect x="1346.7" y="655.75" width="22.1" height="5.95" fill="rgb(215,0,0)"/><rect x="1346.7" y="650.10" width="22.1" height="5.95" fill="rgb(199,0,0)"/><rect x="1346.7" y="644.45" width="22.1" height="5.95" fill="rgb(183,0,0)"/><rect x="1346.7" y="638.80" width="22.1" height="5.95" fill="rgb(167,0,0)"/><rect x="1346.7" y="633.15" width="22.1" height="5.95" fill="rgb(151,0,0)"/><rect x="1346.7" y="627.50" width="22.1" height="5.95" fill="rgb(135,0,0)"/></g><text x="965.2" y="229.8" font-family='"Liberation Sans", sans-serif' font-size="23" text-anchor="end" font-weight="normal" fill="#3a3a3a" textLength="23" lengthAdjust="spacingAndGlyphs" stroke="#3a3a3a" stroke-width="0.45">10</text><text x="1019.1" y="567.3" font-family='"Liberation Sans", sans-serif' font-size="23" text-anchor="middle" font-weight="normal" fill="#3a3a3a" textLength="23" lengthAdjust="spacingAndGlyphs" stroke="#3a3a3a" stroke-width="0.45">10</text><text x="965.2" y="275.9" font-family='"Liberation Sans", sans-serif' font-size="23" text-anchor="end" font-weight="normal" fill="#3a3a3a" textLength="23" lengthAdjust="spacingAndGlyphs" stroke="#3a3a3a" stroke-width="0.45">20</text><text x="1065.3" y="567.3" font-family='"Liberation Sans", sans-serif' font-size="23" text-anchor="middle" font-weight="normal" fill="#3a3a3a" textLength="23" lengthAdjust="spacingAndGlyphs" stroke="#3a3a3a" stroke-width="0.45">20</text><text x="965.2" y="321.9" font-family='"Liberation Sans", sans-serif' font-size="23" text-anchor="end" font-weight="normal" fill="#3a3a3a" textLength="23" lengthAdjust="spacingAndGlyphs" stroke="#3a3a3a" stroke-width="0.45">30</text><text x="1111.5" y="567.3" font-family='"Liberation Sans", sans-serif' font-size="23" text-anchor="middle" font-weight="normal" fill="#3a3a3a" textLength="23" lengthAdjust="spacingAndGlyphs" stroke="#3a3a3a" stroke-width="0.45">30</text><text x="965.2" y="368.0" font-family='"Liberation Sans", sans-serif' font-size="23" text-anchor="end" font-weight="normal" fill="#3a3a3a" textLength="23" lengthAdjust="spacingAndGlyphs" stroke="#3a3a3a" stroke-width="0.45">40</text><text x="1157.7" y="567.3" font-family='"Liberation Sans", sans-serif' font-size="23" text-anchor="middle" font-weight="normal" fill="#3a3a3a" textLength="23" lengthAdjust="spacingAndGlyphs" stroke="#3a3a3a" stroke-width="0.45">40</text><text x="965.2" y="414.1" font-family='"Liberation Sans", sans-serif' font-size="23" text-anchor="end" font-weight="normal" fill="#3a3a3a" textLength="23" lengthAdjust="spacingAndGlyphs" stroke="#3a3a3a" stroke-width="0.45">50</text><text x="1203.9" y="567.3" font-family='"Liberation Sans", sans-serif' font-size="23" text-anchor="middle" font-weight="normal" fill="#3a3a3a" textLength="23" lengthAdjust="spacingAndGlyphs" stroke="#3a3a3a" stroke-width="0.45">50</text><text x="965.2" y="460.2" font-family='"Liberation Sans", sans-serif' font-size="23" text-anchor="end" font-weight="normal" fill="#3a3a3a" textLength="23" lengthAdjust="spacingAndGlyphs" stroke="#3a3a3a" stroke-width="0.45">60</text><text x="1250.1" y="567.3" font-family='"Liberation Sans", sans-serif' font-size="23" text-anchor="middle" font-weight="normal" fill="#3a3a3a" textLength="23" lengthAdjust="spacingAndGlyphs" stroke="#3a3a3a" stroke-width="0.45">60</text><text x="965.2" y="506.2" font-family='"Liberation Sans", sans-serif' font-size="23" text-anchor="end" font-weight="normal" fill="#3a3a3a" textLength="23" lengthAdjust="spacingAndGlyphs" stroke="#3a3a3a" stroke-width="0.45">70</text><text x="1296.3" y="567.3" font-family='"Liberation Sans", sans-serif' font-size="23" text-anchor="middle" font-weight="normal" fill="#3a3a3a" textLength="23" lengthAdjust="spacingAndGlyphs" stroke="#3a3a3a" stroke-width="0.45">70</text><text x="1377.0" y="545.1" font-family='"Liberation Sans", sans-serif' font-size="22" text-anchor="start" font-weight="normal" fill="#3a3a3a" textLength="11" lengthAdjust="spacingAndGlyphs" stroke="#3a3a3a" stroke-width="0.45">0</text><text x="1377.0" y="493.4" font-family='"Liberation Sans", sans-serif' font-size="22" text-anchor="start" font-weight="normal" fill="#3a3a3a" textLength="27" lengthAdjust="spacingAndGlyphs" stroke="#3a3a3a" stroke-width="0.45">0.1</text><text x="1377.0" y="441.7" font-family='"Liberation Sans", sans-serif' font-size="22" text-anchor="start" font-weight="normal" fill="#3a3a3a" textLength="27" lengthAdjust="spacingAndGlyphs" stroke="#3a3a3a" stroke-width="0.45">0.2</text><text x="1377.0" y="390.0" font-family='"Liberation Sans", sans-serif' font-size="22" text-anchor="start" font-weight="normal" fill="#3a3a3a" textLength="27" lengthAdjust="spacingAndGlyphs" stroke="#3a3a3a" stroke-width="0.45">0.3</text><text x="1377.0" y="338.4" font-family='"Liberation Sans", sans-serif' font-size="22" text-anchor="start" font-weight="normal" fill="#3a3a3a" textLength="27" lengthAdjust="spacingAndGlyphs" stroke="#3a3a3a" stroke-width="0.45">0.4</text><text x="1377.0" y="286.7" font-family='"Liberation Sans", sans-serif' font-size="22" text-anchor="start" font-weight="normal" fill="#3a3a3a" textLength="27" lengthAdjust="spacingAndGlyphs" stroke="#3a3a3a" stroke-width="0.45">0.5</text><text x="1377.0" y="235.0" font-family='"Liberation Sans", sans-serif' font-size="22" text-anchor="start" font-weight="normal" fill="#3a3a3a" textLength="27" lengthAdjust="spacingAndGlyphs" stroke="#3a3a3a" stroke-width="0.45">0.6</text><text x="1377.0" y="183.3" font-family='"Liberation Sans", sans-serif' font-size="22" text-anchor="start" font-weight="normal" fill="#3a3a3a" textLength="27" lengthAdjust="spacingAndGlyphs" stroke="#3a3a3a" stroke-width="0.45">0.7</text><text x="965.0" y="683.2" font-family='"Liberation Sans", sans-serif' font-size="23" text-anchor="end" font-weight="normal" fill="#3a3a3a" textLength="23" lengthAdjust="spacingAndGlyphs" stroke="#3a3a3a" stroke-width="0.45">10</text><text x="1018.9" y="1020.6" font-family='"Liberation Sans", sans-serif' font-size="23" text-anchor="middle" font-weight="normal" fill="#3a3a3a" textLength="23" lengthAdjust="spacingAndGlyphs" stroke="#3a3a3a" stroke-width="0.45">10</text><text x="965.0" y="729.3" font-family='"Liberation Sans", sans-serif' font-size="23" text-anchor="end" font-weight="normal" fill="#3a3a3a" textLength="23" lengthAdjust="spacingAndGlyphs" stroke="#3a3a3a" stroke-width="0.45">20</text><text x="1065.2" y="1020.6" font-family='"Liberation Sans", sans-serif' font-size="23" text-anchor="middle" font-weight="normal" fill="#3a3a3a" textLength="23" lengthAdjust="spacingAndGlyphs" stroke="#3a3a3a" stroke-width="0.45">20</text><text x="965.0" y="775.4" font-family='"Liberation Sans", sans-serif' font-size="23" text-anchor="end" font-weight="normal" fill="#3a3a3a" textLength="23" lengthAdjust="spacingAndGlyphs" stroke="#3a3a3a" stroke-width="0.45">30</text><text x="1111.4" y="1020.6" font-family='"Liberation Sans", sans-serif' font-size="23" text-anchor="middle" font-weight="normal" fill="#3a3a3a" textLength="23" lengthAdjust="spacingAndGlyphs" stroke="#3a3a3a" stroke-width="0.45">30</text><text x="965.0" y="821.4" font-family='"Liberation Sans", sans-serif' font-size="23" text-anchor="end" font-weight="normal" fill="#3a3a3a" textLength="23" lengthAdjust="spacingAndGlyphs" stroke="#3a3a3a" stroke-width="0.45">40</text><text x="1157.6" y="1020.6" font-family='"Liberation Sans", sans-serif' font-size="23" text-anchor="middle" font-weight="normal" fill="#3a3a3a" textLength="23" lengthAdjust="spacingAndGlyphs" stroke="#3a3a3a" stroke-width="0.45">40</text><text x="965.0" y="867.5" font-family='"Liberation Sans", sans-serif' font-size="23" text-anchor="end" font-weight="normal" fill="#3a3a3a" textLength="23" lengthAdjust="spacingAndGlyphs" stroke="#3a3a3a" stroke-width="0.45">50</text><text x="1203.8" y="1020.6" font-family='"Liberation Sans", sans-serif' font-size="23" text-anchor="middle" font-weight="normal" fill="#3a3a3a" textLength="23" lengthAdjust="spacingAndGlyphs" stroke="#3a3a3a" stroke-width="0.45">50</text><text x="965.0" y="913.5" font-family='"Liberation Sans", sans-serif' font-size="23" text-anchor="end" font-weight="normal" fill="#3a3a3a" textLength="23" lengthAdjust="spacingAndGlyphs" stroke="#3a3a3a" stroke-width="0.45">60</text><text x="1250.1" y="1020.6" font-family='"Liberation Sans", sans-serif' font-size="23" text-anchor="middle" font-weight="normal" fill="#3a3a3a" textLength="23" lengthAdjust="spacingAndGlyphs" stroke="#3a3a3a" stroke-width="0.45">60</text><text x="965.0" y="959.6" font-family='"Liberation Sans", sans-serif' font-size="23" text-anchor="end" font-weight="normal" fill="#3a3a3a" textLength="23" lengthAdjust="spacingAndGlyphs" stroke="#3a3a3a" stroke-width="0.45">70</text><text x="1296.3" y="1020.6" font-family='"Liberation Sans", sans-serif' font-size="23" text-anchor="middle" font-weight="normal" fill="#3a3a3a" textLength="23" lengthAdjust="spacingAndGlyphs" stroke="#3a3a3a" stroke-width="0.45">70</text><text x="1377.0" y="998.6" font-family='"Liberation Sans", sans-serif' font-size="22" text-anchor="start" font-weight="normal" fill="#3a3a3a" textLength="11" lengthAdjust="spacingAndGlyphs" stroke="#3a3a3a" stroke-width="0.45">0</text><text x="1377.0" y="946.9" font-family='"Liberation Sans", sans-serif' font-size="22" text-anchor="start" font-weight="normal" fill="#3a3a3a" textLength="27" lengthAdjust="spacingAndGlyphs" stroke="#3a3a3a" stroke-width="0.45">0.1</text><text x="1377.0" y="895.3" font-family='"Liberation Sans", sans-serif' font-size="22" text-anchor="start" font-weight="normal" fill="#3a3a3a" textLength="27" lengthAdjust="spacingAndGlyphs" stroke="#3a3a3a" stroke-width="0.45">0.2</text><text x="1377.0" y="843.6" font-family='"Liberation Sans", sans-serif' font-size="22" text-anchor="start" font-weight="normal" fill="#3a3a3a" textLength="27" lengthAdjust="spacingAndGlyphs" stroke="#3a3a3a" stroke-width="0.45">0.3</text><text x="1377.0" y="792.0" font-family='"Liberation Sans", sans-serif' font-size="22" text-anchor="start" font-weight="normal" fill="#3a3a3a" textLength="27" lengthAdjust="spacingAndGlyphs" stroke="#3a3a3a" stroke-width="0.45">0.4</text><text x="1377.0" y="740.3" font-family='"Liberation Sans", sans-serif' font-size="22" text-anchor="start" font-weight="normal" fill="#3a3a3a" textLength="27" lengthAdjust="spacingAndGlyphs" stroke="#3a3a3a" stroke-width="0.45">0.5</text><text x="1377.0" y="688.7" font-family='"Liberation Sans", sans-serif' font-size="22" text-anchor="start" font-weight="normal" fill="#3a3a3a" textLength="27" lengthAdjust="spacingAndGlyphs" stroke="#3a3a3a" stroke-width="0.45">0.6</text><text x="1377.0" y="637.0" font-family='"Liberation Sans", sans-serif' font-size="22" text-anchor="start" font-weight="normal" fill="#3a3a3a" textLength="27" lengthAdjust="spacingAndGlyphs" stroke="#3a3a3a" stroke-width="0.45">0.7</text>
</svg>
</body></html>
